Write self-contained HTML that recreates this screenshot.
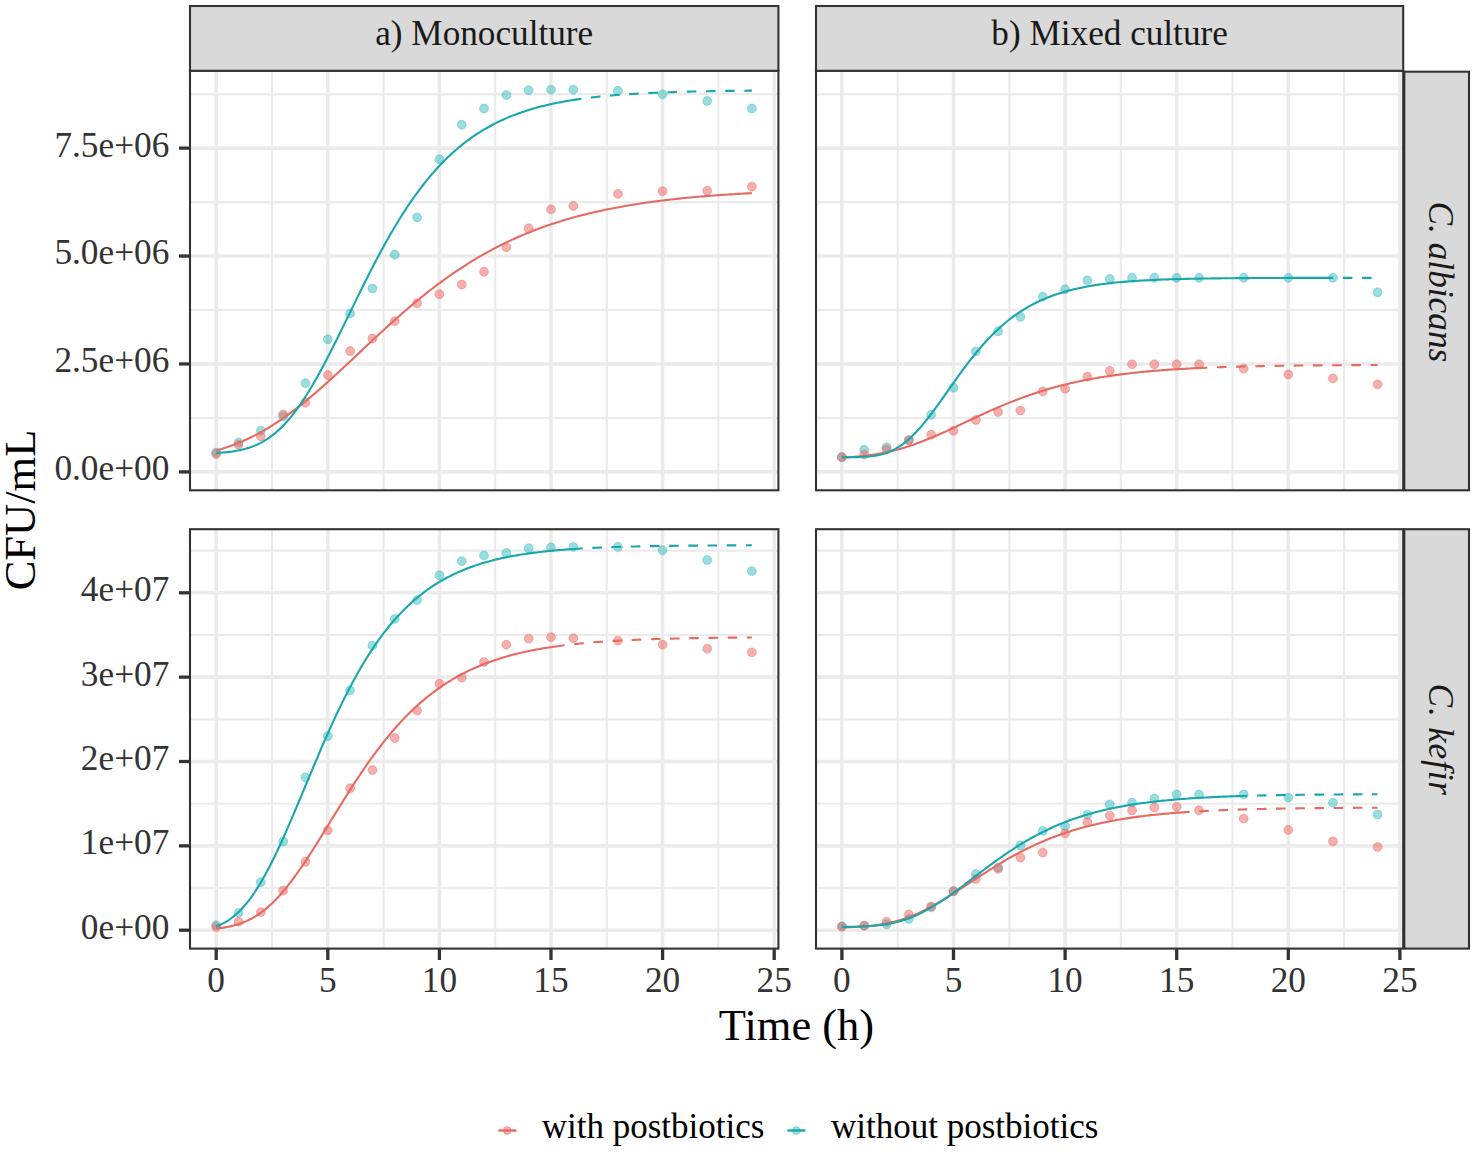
<!DOCTYPE html>
<html><head><meta charset="utf-8"><title>Growth curves</title>
<style>html,body{margin:0;padding:0;background:#fff;}text{font-variant-ligatures:none;font-kerning:normal;}body{width:1478px;height:1156px;position:relative;overflow:hidden;}</style>
</head><body>
<svg width="1478" height="1156" viewBox="0 0 1478 1156" style="position:absolute;left:0;top:0"><rect x="0" y="0" width="1478" height="1156" fill="#fff"/><clipPath id="clipA1"><rect x="190.0" y="70.8" width="588.40" height="419.50"/></clipPath><g clip-path="url(#clipA1)"><rect x="190.0" y="70.8" width="588.40" height="419.50" fill="#fff"/><line x1="190.0" x2="778.4" y1="417.94" y2="417.94" stroke="#ebebeb" stroke-width="2.1"/><line x1="190.0" x2="778.4" y1="310.01" y2="310.01" stroke="#ebebeb" stroke-width="2.1"/><line x1="190.0" x2="778.4" y1="202.09" y2="202.09" stroke="#ebebeb" stroke-width="2.1"/><line x1="190.0" x2="778.4" y1="94.16" y2="94.16" stroke="#ebebeb" stroke-width="2.1"/><line x1="272.00" x2="272.00" y1="70.8" y2="490.3" stroke="#ebebeb" stroke-width="2.1"/><line x1="383.60" x2="383.60" y1="70.8" y2="490.3" stroke="#ebebeb" stroke-width="2.1"/><line x1="495.20" x2="495.20" y1="70.8" y2="490.3" stroke="#ebebeb" stroke-width="2.1"/><line x1="606.80" x2="606.80" y1="70.8" y2="490.3" stroke="#ebebeb" stroke-width="2.1"/><line x1="718.40" x2="718.40" y1="70.8" y2="490.3" stroke="#ebebeb" stroke-width="2.1"/><line x1="190.0" x2="778.4" y1="471.90" y2="471.90" stroke="#ebebeb" stroke-width="3.6"/><line x1="190.0" x2="778.4" y1="363.97" y2="363.97" stroke="#ebebeb" stroke-width="3.6"/><line x1="190.0" x2="778.4" y1="256.05" y2="256.05" stroke="#ebebeb" stroke-width="3.6"/><line x1="190.0" x2="778.4" y1="148.12" y2="148.12" stroke="#ebebeb" stroke-width="3.6"/><line x1="216.20" x2="216.20" y1="70.8" y2="490.3" stroke="#ebebeb" stroke-width="3.6"/><line x1="327.80" x2="327.80" y1="70.8" y2="490.3" stroke="#ebebeb" stroke-width="3.6"/><line x1="439.40" x2="439.40" y1="70.8" y2="490.3" stroke="#ebebeb" stroke-width="3.6"/><line x1="551.00" x2="551.00" y1="70.8" y2="490.3" stroke="#ebebeb" stroke-width="3.6"/><line x1="662.60" x2="662.60" y1="70.8" y2="490.3" stroke="#ebebeb" stroke-width="3.6"/><line x1="774.20" x2="774.20" y1="70.8" y2="490.3" stroke="#ebebeb" stroke-width="3.6"/><g><circle cx="216.20" cy="452.50" r="4.45" fill="#1eb4b9" fill-opacity="0.45" stroke="#1eb4b9" stroke-opacity="0.36" stroke-width="1.0"/><circle cx="238.52" cy="442.40" r="4.45" fill="#1eb4b9" fill-opacity="0.45" stroke="#1eb4b9" stroke-opacity="0.36" stroke-width="1.0"/><circle cx="260.84" cy="430.60" r="4.45" fill="#1eb4b9" fill-opacity="0.45" stroke="#1eb4b9" stroke-opacity="0.36" stroke-width="1.0"/><circle cx="283.16" cy="416.40" r="4.45" fill="#1eb4b9" fill-opacity="0.45" stroke="#1eb4b9" stroke-opacity="0.36" stroke-width="1.0"/><circle cx="305.48" cy="383.10" r="4.45" fill="#1eb4b9" fill-opacity="0.45" stroke="#1eb4b9" stroke-opacity="0.36" stroke-width="1.0"/><circle cx="327.80" cy="339.30" r="4.45" fill="#1eb4b9" fill-opacity="0.45" stroke="#1eb4b9" stroke-opacity="0.36" stroke-width="1.0"/><circle cx="350.12" cy="313.50" r="4.45" fill="#1eb4b9" fill-opacity="0.45" stroke="#1eb4b9" stroke-opacity="0.36" stroke-width="1.0"/><circle cx="372.44" cy="288.50" r="4.45" fill="#1eb4b9" fill-opacity="0.45" stroke="#1eb4b9" stroke-opacity="0.36" stroke-width="1.0"/><circle cx="394.76" cy="254.70" r="4.45" fill="#1eb4b9" fill-opacity="0.45" stroke="#1eb4b9" stroke-opacity="0.36" stroke-width="1.0"/><circle cx="417.08" cy="217.50" r="4.45" fill="#1eb4b9" fill-opacity="0.45" stroke="#1eb4b9" stroke-opacity="0.36" stroke-width="1.0"/><circle cx="439.40" cy="159.30" r="4.45" fill="#1eb4b9" fill-opacity="0.45" stroke="#1eb4b9" stroke-opacity="0.36" stroke-width="1.0"/><circle cx="461.72" cy="124.80" r="4.45" fill="#1eb4b9" fill-opacity="0.45" stroke="#1eb4b9" stroke-opacity="0.36" stroke-width="1.0"/><circle cx="484.04" cy="108.50" r="4.45" fill="#1eb4b9" fill-opacity="0.45" stroke="#1eb4b9" stroke-opacity="0.36" stroke-width="1.0"/><circle cx="506.36" cy="95.00" r="4.45" fill="#1eb4b9" fill-opacity="0.45" stroke="#1eb4b9" stroke-opacity="0.36" stroke-width="1.0"/><circle cx="528.68" cy="90.30" r="4.45" fill="#1eb4b9" fill-opacity="0.45" stroke="#1eb4b9" stroke-opacity="0.36" stroke-width="1.0"/><circle cx="551.00" cy="89.70" r="4.45" fill="#1eb4b9" fill-opacity="0.45" stroke="#1eb4b9" stroke-opacity="0.36" stroke-width="1.0"/><circle cx="573.32" cy="89.70" r="4.45" fill="#1eb4b9" fill-opacity="0.45" stroke="#1eb4b9" stroke-opacity="0.36" stroke-width="1.0"/><circle cx="617.96" cy="90.70" r="4.45" fill="#1eb4b9" fill-opacity="0.45" stroke="#1eb4b9" stroke-opacity="0.36" stroke-width="1.0"/><circle cx="662.60" cy="94.30" r="4.45" fill="#1eb4b9" fill-opacity="0.45" stroke="#1eb4b9" stroke-opacity="0.36" stroke-width="1.0"/><circle cx="707.24" cy="101.00" r="4.45" fill="#1eb4b9" fill-opacity="0.45" stroke="#1eb4b9" stroke-opacity="0.36" stroke-width="1.0"/><circle cx="751.88" cy="108.50" r="4.45" fill="#1eb4b9" fill-opacity="0.45" stroke="#1eb4b9" stroke-opacity="0.36" stroke-width="1.0"/><circle cx="216.20" cy="454.10" r="4.45" fill="#eb615d" fill-opacity="0.5" stroke="#eb615d" stroke-opacity="0.40" stroke-width="1.0"/><circle cx="238.52" cy="444.80" r="4.45" fill="#eb615d" fill-opacity="0.5" stroke="#eb615d" stroke-opacity="0.40" stroke-width="1.0"/><circle cx="260.84" cy="436.30" r="4.45" fill="#eb615d" fill-opacity="0.5" stroke="#eb615d" stroke-opacity="0.40" stroke-width="1.0"/><circle cx="283.16" cy="414.40" r="4.45" fill="#eb615d" fill-opacity="0.5" stroke="#eb615d" stroke-opacity="0.40" stroke-width="1.0"/><circle cx="305.48" cy="402.80" r="4.45" fill="#eb615d" fill-opacity="0.5" stroke="#eb615d" stroke-opacity="0.40" stroke-width="1.0"/><circle cx="327.80" cy="375.00" r="4.45" fill="#eb615d" fill-opacity="0.5" stroke="#eb615d" stroke-opacity="0.40" stroke-width="1.0"/><circle cx="350.12" cy="351.00" r="4.45" fill="#eb615d" fill-opacity="0.5" stroke="#eb615d" stroke-opacity="0.40" stroke-width="1.0"/><circle cx="372.44" cy="338.50" r="4.45" fill="#eb615d" fill-opacity="0.5" stroke="#eb615d" stroke-opacity="0.40" stroke-width="1.0"/><circle cx="394.76" cy="321.20" r="4.45" fill="#eb615d" fill-opacity="0.5" stroke="#eb615d" stroke-opacity="0.40" stroke-width="1.0"/><circle cx="417.08" cy="303.30" r="4.45" fill="#eb615d" fill-opacity="0.5" stroke="#eb615d" stroke-opacity="0.40" stroke-width="1.0"/><circle cx="439.40" cy="294.20" r="4.45" fill="#eb615d" fill-opacity="0.5" stroke="#eb615d" stroke-opacity="0.40" stroke-width="1.0"/><circle cx="461.72" cy="284.50" r="4.45" fill="#eb615d" fill-opacity="0.5" stroke="#eb615d" stroke-opacity="0.40" stroke-width="1.0"/><circle cx="484.04" cy="271.80" r="4.45" fill="#eb615d" fill-opacity="0.5" stroke="#eb615d" stroke-opacity="0.40" stroke-width="1.0"/><circle cx="506.36" cy="247.20" r="4.45" fill="#eb615d" fill-opacity="0.5" stroke="#eb615d" stroke-opacity="0.40" stroke-width="1.0"/><circle cx="528.68" cy="228.30" r="4.45" fill="#eb615d" fill-opacity="0.5" stroke="#eb615d" stroke-opacity="0.40" stroke-width="1.0"/><circle cx="551.00" cy="209.40" r="4.45" fill="#eb615d" fill-opacity="0.5" stroke="#eb615d" stroke-opacity="0.40" stroke-width="1.0"/><circle cx="573.32" cy="206.00" r="4.45" fill="#eb615d" fill-opacity="0.5" stroke="#eb615d" stroke-opacity="0.40" stroke-width="1.0"/><circle cx="617.96" cy="193.80" r="4.45" fill="#eb615d" fill-opacity="0.5" stroke="#eb615d" stroke-opacity="0.40" stroke-width="1.0"/><circle cx="662.60" cy="191.20" r="4.45" fill="#eb615d" fill-opacity="0.5" stroke="#eb615d" stroke-opacity="0.40" stroke-width="1.0"/><circle cx="707.24" cy="190.70" r="4.45" fill="#eb615d" fill-opacity="0.5" stroke="#eb615d" stroke-opacity="0.40" stroke-width="1.0"/><circle cx="751.88" cy="186.70" r="4.45" fill="#eb615d" fill-opacity="0.5" stroke="#eb615d" stroke-opacity="0.40" stroke-width="1.0"/></g><path d="M216.20 450.42 L218.89 449.67 L221.58 448.89 L224.28 448.05 L226.97 447.18 L229.66 446.26 L232.35 445.30 L235.04 444.30 L237.73 443.24 L240.43 442.15 L243.12 441.00 L245.81 439.81 L248.50 438.56 L251.19 437.27 L253.89 435.93 L256.58 434.55 L259.27 433.11 L261.96 431.62 L264.65 430.09 L267.35 428.51 L270.04 426.88 L272.73 425.20 L275.42 423.47 L278.11 421.70 L280.80 419.88 L283.50 418.02 L286.19 416.12 L288.88 414.17 L291.57 412.18 L294.26 410.15 L296.96 408.07 L299.65 405.97 L302.34 403.82 L305.03 401.64 L307.72 399.43 L310.42 397.18 L313.11 394.90 L315.80 392.59 L318.49 390.26 L321.18 387.90 L323.87 385.52 L326.57 383.11 L329.26 380.68 L331.95 378.24 L334.64 375.78 L337.33 373.30 L340.03 370.81 L342.72 368.31 L345.41 365.80 L348.10 363.28 L350.79 360.75 L353.48 358.22 L356.18 355.69 L358.87 353.15 L361.56 350.62 L364.25 348.09 L366.94 345.56 L369.64 343.03 L372.33 340.52 L375.02 338.01 L377.71 335.51 L380.40 333.02 L383.10 330.54 L385.79 328.08 L388.48 325.63 L391.17 323.20 L393.86 320.78 L396.55 318.38 L399.25 316.00 L401.94 313.64 L404.63 311.30 L407.32 308.98 L410.01 306.69 L412.71 304.41 L415.40 302.17 L418.09 299.94 L420.78 297.74 L423.47 295.57 L426.17 293.42 L428.86 291.30 L431.55 289.21 L434.24 287.14 L436.93 285.10 L439.62 283.09 L442.32 281.11 L445.01 279.15 L447.70 277.23 L450.39 275.33 L453.08 273.47 L455.78 271.63 L458.47 269.82 L461.16 268.04 L463.85 266.29 L466.54 264.57 L469.23 262.88 L471.93 261.21 L474.62 259.58 L477.31 257.97 L480.00 256.40 L482.69 254.85 L485.39 253.33 L488.08 251.84 L490.77 250.38 L493.46 248.94 L496.15 247.53 L498.85 246.15 L501.54 244.80 L504.23 243.47 L506.92 242.17 L509.61 240.90 L512.30 239.65 L515.00 238.42 L517.69 237.23 L520.38 236.05 L523.07 234.90 L525.76 233.78 L528.46 232.68 L531.15 231.60 L533.84 230.55 L536.53 229.51 L539.22 228.51 L541.91 227.52 L544.61 226.55 L547.30 225.61 L549.99 224.69 L552.68 223.78 L555.37 222.90 L558.07 222.04 L560.76 221.20 L563.45 220.37 L566.14 219.57 L568.83 218.78 L571.53 218.01 L574.22 217.26 L576.91 216.53 L579.60 215.81 L582.29 215.12 L584.98 214.43 L587.68 213.77 L590.37 213.12 L593.06 212.48 L595.75 211.86 L598.44 211.25 L601.14 210.66 L603.83 210.09 L606.52 209.52 L609.21 208.97 L611.90 208.44 L614.60 207.92 L617.29 207.41 L619.98 206.91 L622.67 206.42 L625.36 205.95 L628.05 205.49 L630.75 205.04 L633.44 204.60 L636.13 204.17 L638.82 203.75 L641.51 203.34 L644.21 202.95 L646.90 202.56 L649.59 202.18 L652.28 201.81 L654.97 201.45 L657.66 201.10 L660.36 200.76 L663.05 200.43 L665.74 200.10 L668.43 199.79 L671.12 199.48 L673.82 199.18 L676.51 198.89 L679.20 198.60 L681.89 198.32 L684.58 198.05 L687.28 197.79 L689.97 197.53 L692.66 197.28 L695.35 197.04 L698.04 196.80 L700.73 196.57 L703.43 196.34 L706.12 196.12 L708.81 195.91 L711.50 195.70 L714.19 195.49 L716.89 195.29 L719.58 195.10 L722.27 194.91 L724.96 194.73 L727.65 194.55 L730.35 194.38 L733.04 194.21 L735.73 194.04 L738.42 193.88 L741.11 193.72 L743.80 193.57 L746.50 193.42 L749.19 193.28 L751.88 193.14" fill="none" stroke="#e76a61" stroke-width="2.1"/><path d="M581.13 98.83 L581.99 98.71 L582.85 98.59 L583.71 98.48 L584.56 98.37 L585.42 98.25 L586.28 98.14 L587.14 98.03 L588.00 97.93 L588.85 97.82 L589.71 97.72 L590.57 97.61 L591.43 97.51 L592.29 97.41 L593.14 97.31 L594.00 97.21 L594.86 97.12 L595.72 97.02 L596.58 96.93 L597.43 96.83 L598.29 96.74 L599.15 96.65 L600.01 96.56 L600.87 96.48 L601.72 96.39 L602.58 96.30 L603.44 96.22 L604.30 96.14 L605.16 96.05 L606.01 95.97 L606.87 95.89 L607.73 95.81 L608.59 95.74 L609.45 95.66 L610.31 95.58 L611.16 95.51 L612.02 95.43 L612.88 95.36 L613.74 95.29 L614.60 95.22 L615.45 95.15 L616.31 95.08 L617.17 95.01 L618.03 94.94 L618.89 94.88 L619.74 94.81 L620.60 94.75 L621.46 94.68 L622.32 94.62 L623.18 94.56 L624.03 94.50 L624.89 94.44 L625.75 94.38 L626.61 94.32 L627.47 94.26 L628.32 94.21 L629.18 94.15 L630.04 94.09 L630.90 94.04 L631.76 93.99 L632.61 93.93 L633.47 93.88 L634.33 93.83 L635.19 93.78 L636.05 93.73 L636.90 93.68 L637.76 93.63 L638.62 93.58 L639.48 93.53 L640.34 93.48 L641.19 93.44 L642.05 93.39 L642.91 93.35 L643.77 93.30 L644.63 93.26 L645.48 93.21 L646.34 93.17 L647.20 93.13 L648.06 93.09 L648.92 93.04 L649.77 93.00 L650.63 92.96 L651.49 92.92 L652.35 92.89 L653.21 92.85 L654.06 92.81 L654.92 92.77 L655.78 92.73 L656.64 92.70 L657.50 92.66 L658.35 92.63 L659.21 92.59 L660.07 92.56 L660.93 92.52 L661.79 92.49 L662.64 92.46 L663.50 92.42 L664.36 92.39 L665.22 92.36 L666.08 92.33 L666.94 92.30 L667.79 92.27 L668.65 92.24 L669.51 92.21 L670.37 92.18 L671.23 92.15 L672.08 92.12 L672.94 92.09 L673.80 92.06 L674.66 92.04 L675.52 92.01 L676.37 91.98 L677.23 91.96 L678.09 91.93 L678.95 91.91 L679.81 91.88 L680.66 91.86 L681.52 91.83 L682.38 91.81 L683.24 91.78 L684.10 91.76 L684.95 91.74 L685.81 91.71 L686.67 91.69 L687.53 91.67 L688.39 91.65 L689.24 91.62 L690.10 91.60 L690.96 91.58 L691.82 91.56 L692.68 91.54 L693.53 91.52 L694.39 91.50 L695.25 91.48 L696.11 91.46 L696.97 91.44 L697.82 91.42 L698.68 91.40 L699.54 91.39 L700.40 91.37 L701.26 91.35 L702.11 91.33 L702.97 91.31 L703.83 91.30 L704.69 91.28 L705.55 91.26 L706.40 91.25 L707.26 91.23 L708.12 91.21 L708.98 91.20 L709.84 91.18 L710.69 91.17 L711.55 91.15 L712.41 91.14 L713.27 91.12 L714.13 91.11 L714.98 91.09 L715.84 91.08 L716.70 91.07 L717.56 91.05 L718.42 91.04 L719.27 91.02 L720.13 91.01 L720.99 91.00 L721.85 90.98 L722.71 90.97 L723.57 90.96 L724.42 90.95 L725.28 90.93 L726.14 90.92 L727.00 90.91 L727.86 90.90 L728.71 90.89 L729.57 90.88 L730.43 90.86 L731.29 90.85 L732.15 90.84 L733.00 90.83 L733.86 90.82 L734.72 90.81 L735.58 90.80 L736.44 90.79 L737.29 90.78 L738.15 90.77 L739.01 90.76 L739.87 90.75 L740.73 90.74 L741.58 90.73 L742.44 90.72 L743.30 90.71 L744.16 90.70 L745.02 90.70 L745.87 90.69 L746.73 90.68 L747.59 90.67 L748.45 90.66 L749.31 90.65 L750.16 90.64 L751.02 90.64 L751.88 90.63" fill="none" stroke="#17a7ac" stroke-width="2.1" stroke-dasharray="9.6 9.6" stroke-dashoffset="9.3"/><path d="M216.20 452.93 L218.03 452.83 L219.87 452.72 L221.70 452.59 L223.54 452.44 L225.37 452.28 L227.20 452.10 L229.04 451.90 L230.87 451.67 L232.70 451.42 L234.54 451.14 L236.37 450.83 L238.21 450.49 L240.04 450.12 L241.87 449.71 L243.71 449.26 L245.54 448.78 L247.38 448.24 L249.21 447.66 L251.04 447.04 L252.88 446.36 L254.71 445.63 L256.54 444.84 L258.38 443.99 L260.21 443.08 L262.05 442.11 L263.88 441.07 L265.71 439.96 L267.55 438.78 L269.38 437.53 L271.21 436.20 L273.05 434.80 L274.88 433.32 L276.72 431.76 L278.55 430.12 L280.38 428.40 L282.22 426.60 L284.05 424.72 L285.89 422.75 L287.72 420.70 L289.55 418.56 L291.39 416.35 L293.22 414.05 L295.05 411.66 L296.89 409.20 L298.72 406.66 L300.56 404.04 L302.39 401.34 L304.22 398.56 L306.06 395.72 L307.89 392.80 L309.73 389.81 L311.56 386.75 L313.39 383.63 L315.23 380.45 L317.06 377.21 L318.89 373.91 L320.73 370.56 L322.56 367.16 L324.40 363.72 L326.23 360.23 L328.06 356.70 L329.90 353.13 L331.73 349.52 L333.57 345.89 L335.40 342.23 L337.23 338.55 L339.07 334.84 L340.90 331.12 L342.73 327.38 L344.57 323.64 L346.40 319.88 L348.24 316.12 L350.07 312.36 L351.90 308.60 L353.74 304.85 L355.57 301.10 L357.40 297.36 L359.24 293.64 L361.07 289.93 L362.91 286.24 L364.74 282.57 L366.57 278.92 L368.41 275.29 L370.24 271.69 L372.08 268.12 L373.91 264.58 L375.74 261.07 L377.58 257.59 L379.41 254.15 L381.24 250.75 L383.08 247.38 L384.91 244.06 L386.75 240.77 L388.58 237.53 L390.41 234.32 L392.25 231.16 L394.08 228.05 L395.92 224.98 L397.75 221.95 L399.58 218.97 L401.42 216.04 L403.25 213.15 L405.08 210.31 L406.92 207.52 L408.75 204.77 L410.59 202.07 L412.42 199.42 L414.25 196.82 L416.09 194.26 L417.92 191.76 L419.76 189.29 L421.59 186.88 L423.42 184.51 L425.26 182.19 L427.09 179.92 L428.92 177.69 L430.76 175.51 L432.59 173.37 L434.43 171.28 L436.26 169.23 L438.09 167.22 L439.93 165.26 L441.76 163.34 L443.59 161.46 L445.43 159.63 L447.26 157.83 L449.10 156.08 L450.93 154.37 L452.76 152.69 L454.60 151.06 L456.43 149.46 L458.27 147.90 L460.10 146.37 L461.93 144.88 L463.77 143.43 L465.60 142.01 L467.43 140.63 L469.27 139.28 L471.10 137.97 L472.94 136.68 L474.77 135.43 L476.60 134.21 L478.44 133.02 L480.27 131.85 L482.11 130.72 L483.94 129.62 L485.77 128.54 L487.61 127.49 L489.44 126.47 L491.27 125.48 L493.11 124.51 L494.94 123.56 L496.78 122.64 L498.61 121.75 L500.44 120.87 L502.28 120.02 L504.11 119.20 L505.95 118.39 L507.78 117.61 L509.61 116.84 L511.45 116.10 L513.28 115.38 L515.11 114.67 L516.95 113.99 L518.78 113.32 L520.62 112.67 L522.45 112.04 L524.28 111.42 L526.12 110.82 L527.95 110.24 L529.78 109.68 L531.62 109.12 L533.45 108.59 L535.29 108.07 L537.12 107.56 L538.95 107.07 L540.79 106.59 L542.62 106.12 L544.46 105.67 L546.29 105.23 L548.12 104.80 L549.96 104.38 L551.79 103.98 L553.62 103.58 L555.46 103.20 L557.29 102.83 L559.13 102.46 L560.96 102.11 L562.79 101.77 L564.63 101.44 L566.46 101.11 L568.30 100.80 L570.13 100.49 L571.96 100.19 L573.80 99.91 L575.63 99.62 L577.46 99.35 L579.30 99.09 L581.13 98.83" fill="none" stroke="#17a7ac" stroke-width="2.1"/></g><rect x="190.0" y="70.8" width="588.40" height="419.50" fill="none" stroke="#333" stroke-width="2.1"/><clipPath id="clipA2"><rect x="190.0" y="529.2" width="588.40" height="419.40"/></clipPath><g clip-path="url(#clipA2)"><rect x="190.0" y="529.2" width="588.40" height="419.40" fill="#fff"/><line x1="190.0" x2="778.4" y1="888.03" y2="888.03" stroke="#ebebeb" stroke-width="2.1"/><line x1="190.0" x2="778.4" y1="803.68" y2="803.68" stroke="#ebebeb" stroke-width="2.1"/><line x1="190.0" x2="778.4" y1="719.33" y2="719.33" stroke="#ebebeb" stroke-width="2.1"/><line x1="190.0" x2="778.4" y1="634.98" y2="634.98" stroke="#ebebeb" stroke-width="2.1"/><line x1="190.0" x2="778.4" y1="550.62" y2="550.62" stroke="#ebebeb" stroke-width="2.1"/><line x1="272.00" x2="272.00" y1="529.2" y2="948.6" stroke="#ebebeb" stroke-width="2.1"/><line x1="383.60" x2="383.60" y1="529.2" y2="948.6" stroke="#ebebeb" stroke-width="2.1"/><line x1="495.20" x2="495.20" y1="529.2" y2="948.6" stroke="#ebebeb" stroke-width="2.1"/><line x1="606.80" x2="606.80" y1="529.2" y2="948.6" stroke="#ebebeb" stroke-width="2.1"/><line x1="718.40" x2="718.40" y1="529.2" y2="948.6" stroke="#ebebeb" stroke-width="2.1"/><line x1="190.0" x2="778.4" y1="930.20" y2="930.20" stroke="#ebebeb" stroke-width="3.6"/><line x1="190.0" x2="778.4" y1="845.85" y2="845.85" stroke="#ebebeb" stroke-width="3.6"/><line x1="190.0" x2="778.4" y1="761.50" y2="761.50" stroke="#ebebeb" stroke-width="3.6"/><line x1="190.0" x2="778.4" y1="677.15" y2="677.15" stroke="#ebebeb" stroke-width="3.6"/><line x1="190.0" x2="778.4" y1="592.80" y2="592.80" stroke="#ebebeb" stroke-width="3.6"/><line x1="216.20" x2="216.20" y1="529.2" y2="948.6" stroke="#ebebeb" stroke-width="3.6"/><line x1="327.80" x2="327.80" y1="529.2" y2="948.6" stroke="#ebebeb" stroke-width="3.6"/><line x1="439.40" x2="439.40" y1="529.2" y2="948.6" stroke="#ebebeb" stroke-width="3.6"/><line x1="551.00" x2="551.00" y1="529.2" y2="948.6" stroke="#ebebeb" stroke-width="3.6"/><line x1="662.60" x2="662.60" y1="529.2" y2="948.6" stroke="#ebebeb" stroke-width="3.6"/><line x1="774.20" x2="774.20" y1="529.2" y2="948.6" stroke="#ebebeb" stroke-width="3.6"/><g><circle cx="216.20" cy="925.10" r="4.45" fill="#1eb4b9" fill-opacity="0.45" stroke="#1eb4b9" stroke-opacity="0.36" stroke-width="1.0"/><circle cx="238.52" cy="912.90" r="4.45" fill="#1eb4b9" fill-opacity="0.45" stroke="#1eb4b9" stroke-opacity="0.36" stroke-width="1.0"/><circle cx="260.84" cy="882.10" r="4.45" fill="#1eb4b9" fill-opacity="0.45" stroke="#1eb4b9" stroke-opacity="0.36" stroke-width="1.0"/><circle cx="283.16" cy="841.50" r="4.45" fill="#1eb4b9" fill-opacity="0.45" stroke="#1eb4b9" stroke-opacity="0.36" stroke-width="1.0"/><circle cx="305.48" cy="777.50" r="4.45" fill="#1eb4b9" fill-opacity="0.45" stroke="#1eb4b9" stroke-opacity="0.36" stroke-width="1.0"/><circle cx="327.80" cy="736.00" r="4.45" fill="#1eb4b9" fill-opacity="0.45" stroke="#1eb4b9" stroke-opacity="0.36" stroke-width="1.0"/><circle cx="350.12" cy="690.40" r="4.45" fill="#1eb4b9" fill-opacity="0.45" stroke="#1eb4b9" stroke-opacity="0.36" stroke-width="1.0"/><circle cx="372.44" cy="645.70" r="4.45" fill="#1eb4b9" fill-opacity="0.45" stroke="#1eb4b9" stroke-opacity="0.36" stroke-width="1.0"/><circle cx="394.76" cy="618.90" r="4.45" fill="#1eb4b9" fill-opacity="0.45" stroke="#1eb4b9" stroke-opacity="0.36" stroke-width="1.0"/><circle cx="417.08" cy="600.00" r="4.45" fill="#1eb4b9" fill-opacity="0.45" stroke="#1eb4b9" stroke-opacity="0.36" stroke-width="1.0"/><circle cx="439.40" cy="575.30" r="4.45" fill="#1eb4b9" fill-opacity="0.45" stroke="#1eb4b9" stroke-opacity="0.36" stroke-width="1.0"/><circle cx="461.72" cy="561.10" r="4.45" fill="#1eb4b9" fill-opacity="0.45" stroke="#1eb4b9" stroke-opacity="0.36" stroke-width="1.0"/><circle cx="484.04" cy="555.40" r="4.45" fill="#1eb4b9" fill-opacity="0.45" stroke="#1eb4b9" stroke-opacity="0.36" stroke-width="1.0"/><circle cx="506.36" cy="553.00" r="4.45" fill="#1eb4b9" fill-opacity="0.45" stroke="#1eb4b9" stroke-opacity="0.36" stroke-width="1.0"/><circle cx="528.68" cy="548.30" r="4.45" fill="#1eb4b9" fill-opacity="0.45" stroke="#1eb4b9" stroke-opacity="0.36" stroke-width="1.0"/><circle cx="551.00" cy="547.30" r="4.45" fill="#1eb4b9" fill-opacity="0.45" stroke="#1eb4b9" stroke-opacity="0.36" stroke-width="1.0"/><circle cx="573.32" cy="546.90" r="4.45" fill="#1eb4b9" fill-opacity="0.45" stroke="#1eb4b9" stroke-opacity="0.36" stroke-width="1.0"/><circle cx="617.96" cy="546.90" r="4.45" fill="#1eb4b9" fill-opacity="0.45" stroke="#1eb4b9" stroke-opacity="0.36" stroke-width="1.0"/><circle cx="662.60" cy="550.30" r="4.45" fill="#1eb4b9" fill-opacity="0.45" stroke="#1eb4b9" stroke-opacity="0.36" stroke-width="1.0"/><circle cx="707.24" cy="560.00" r="4.45" fill="#1eb4b9" fill-opacity="0.45" stroke="#1eb4b9" stroke-opacity="0.36" stroke-width="1.0"/><circle cx="751.88" cy="571.20" r="4.45" fill="#1eb4b9" fill-opacity="0.45" stroke="#1eb4b9" stroke-opacity="0.36" stroke-width="1.0"/><circle cx="216.20" cy="927.10" r="4.45" fill="#eb615d" fill-opacity="0.5" stroke="#eb615d" stroke-opacity="0.40" stroke-width="1.0"/><circle cx="238.52" cy="921.70" r="4.45" fill="#eb615d" fill-opacity="0.5" stroke="#eb615d" stroke-opacity="0.40" stroke-width="1.0"/><circle cx="260.84" cy="912.10" r="4.45" fill="#eb615d" fill-opacity="0.5" stroke="#eb615d" stroke-opacity="0.40" stroke-width="1.0"/><circle cx="283.16" cy="890.60" r="4.45" fill="#eb615d" fill-opacity="0.5" stroke="#eb615d" stroke-opacity="0.40" stroke-width="1.0"/><circle cx="305.48" cy="861.80" r="4.45" fill="#eb615d" fill-opacity="0.5" stroke="#eb615d" stroke-opacity="0.40" stroke-width="1.0"/><circle cx="327.80" cy="830.30" r="4.45" fill="#eb615d" fill-opacity="0.5" stroke="#eb615d" stroke-opacity="0.40" stroke-width="1.0"/><circle cx="350.12" cy="788.30" r="4.45" fill="#eb615d" fill-opacity="0.5" stroke="#eb615d" stroke-opacity="0.40" stroke-width="1.0"/><circle cx="372.44" cy="770.00" r="4.45" fill="#eb615d" fill-opacity="0.5" stroke="#eb615d" stroke-opacity="0.40" stroke-width="1.0"/><circle cx="394.76" cy="738.00" r="4.45" fill="#eb615d" fill-opacity="0.5" stroke="#eb615d" stroke-opacity="0.40" stroke-width="1.0"/><circle cx="417.08" cy="710.70" r="4.45" fill="#eb615d" fill-opacity="0.5" stroke="#eb615d" stroke-opacity="0.40" stroke-width="1.0"/><circle cx="439.40" cy="683.70" r="4.45" fill="#eb615d" fill-opacity="0.5" stroke="#eb615d" stroke-opacity="0.40" stroke-width="1.0"/><circle cx="461.72" cy="677.60" r="4.45" fill="#eb615d" fill-opacity="0.5" stroke="#eb615d" stroke-opacity="0.40" stroke-width="1.0"/><circle cx="484.04" cy="662.00" r="4.45" fill="#eb615d" fill-opacity="0.5" stroke="#eb615d" stroke-opacity="0.40" stroke-width="1.0"/><circle cx="506.36" cy="644.70" r="4.45" fill="#eb615d" fill-opacity="0.5" stroke="#eb615d" stroke-opacity="0.40" stroke-width="1.0"/><circle cx="528.68" cy="638.60" r="4.45" fill="#eb615d" fill-opacity="0.5" stroke="#eb615d" stroke-opacity="0.40" stroke-width="1.0"/><circle cx="551.00" cy="637.20" r="4.45" fill="#eb615d" fill-opacity="0.5" stroke="#eb615d" stroke-opacity="0.40" stroke-width="1.0"/><circle cx="573.32" cy="638.20" r="4.45" fill="#eb615d" fill-opacity="0.5" stroke="#eb615d" stroke-opacity="0.40" stroke-width="1.0"/><circle cx="617.96" cy="640.60" r="4.45" fill="#eb615d" fill-opacity="0.5" stroke="#eb615d" stroke-opacity="0.40" stroke-width="1.0"/><circle cx="662.60" cy="644.70" r="4.45" fill="#eb615d" fill-opacity="0.5" stroke="#eb615d" stroke-opacity="0.40" stroke-width="1.0"/><circle cx="707.24" cy="648.70" r="4.45" fill="#eb615d" fill-opacity="0.5" stroke="#eb615d" stroke-opacity="0.40" stroke-width="1.0"/><circle cx="751.88" cy="652.40" r="4.45" fill="#eb615d" fill-opacity="0.5" stroke="#eb615d" stroke-opacity="0.40" stroke-width="1.0"/></g><path d="M564.39 645.26 L565.33 645.14 L566.28 645.03 L567.22 644.92 L568.16 644.80 L569.10 644.69 L570.04 644.59 L570.99 644.48 L571.93 644.37 L572.87 644.27 L573.81 644.17 L574.76 644.07 L575.70 643.97 L576.64 643.87 L577.58 643.77 L578.52 643.68 L579.47 643.58 L580.41 643.49 L581.35 643.40 L582.29 643.31 L583.24 643.22 L584.18 643.13 L585.12 643.05 L586.06 642.96 L587.00 642.88 L587.95 642.79 L588.89 642.71 L589.83 642.63 L590.77 642.55 L591.71 642.47 L592.66 642.39 L593.60 642.32 L594.54 642.24 L595.48 642.17 L596.43 642.10 L597.37 642.02 L598.31 641.95 L599.25 641.88 L600.19 641.81 L601.14 641.74 L602.08 641.68 L603.02 641.61 L603.96 641.55 L604.90 641.48 L605.85 641.42 L606.79 641.35 L607.73 641.29 L608.67 641.23 L609.62 641.17 L610.56 641.11 L611.50 641.05 L612.44 641.00 L613.38 640.94 L614.33 640.88 L615.27 640.83 L616.21 640.77 L617.15 640.72 L618.09 640.67 L619.04 640.61 L619.98 640.56 L620.92 640.51 L621.86 640.46 L622.81 640.41 L623.75 640.36 L624.69 640.32 L625.63 640.27 L626.57 640.22 L627.52 640.18 L628.46 640.13 L629.40 640.09 L630.34 640.04 L631.28 640.00 L632.23 639.96 L633.17 639.91 L634.11 639.87 L635.05 639.83 L636.00 639.79 L636.94 639.75 L637.88 639.71 L638.82 639.67 L639.76 639.63 L640.71 639.60 L641.65 639.56 L642.59 639.52 L643.53 639.49 L644.47 639.45 L645.42 639.41 L646.36 639.38 L647.30 639.35 L648.24 639.31 L649.19 639.28 L650.13 639.25 L651.07 639.21 L652.01 639.18 L652.95 639.15 L653.90 639.12 L654.84 639.09 L655.78 639.06 L656.72 639.03 L657.66 639.00 L658.61 638.97 L659.55 638.94 L660.49 638.91 L661.43 638.89 L662.38 638.86 L663.32 638.83 L664.26 638.81 L665.20 638.78 L666.14 638.75 L667.09 638.73 L668.03 638.70 L668.97 638.68 L669.91 638.65 L670.86 638.63 L671.80 638.61 L672.74 638.58 L673.68 638.56 L674.62 638.54 L675.57 638.52 L676.51 638.49 L677.45 638.47 L678.39 638.45 L679.33 638.43 L680.28 638.41 L681.22 638.39 L682.16 638.37 L683.10 638.35 L684.05 638.33 L684.99 638.31 L685.93 638.29 L686.87 638.27 L687.81 638.25 L688.76 638.23 L689.70 638.22 L690.64 638.20 L691.58 638.18 L692.52 638.16 L693.47 638.15 L694.41 638.13 L695.35 638.11 L696.29 638.10 L697.24 638.08 L698.18 638.06 L699.12 638.05 L700.06 638.03 L701.00 638.02 L701.95 638.00 L702.89 637.99 L703.83 637.97 L704.77 637.96 L705.71 637.95 L706.66 637.93 L707.60 637.92 L708.54 637.90 L709.48 637.89 L710.43 637.88 L711.37 637.86 L712.31 637.85 L713.25 637.84 L714.19 637.83 L715.14 637.81 L716.08 637.80 L717.02 637.79 L717.96 637.78 L718.90 637.77 L719.85 637.75 L720.79 637.74 L721.73 637.73 L722.67 637.72 L723.62 637.71 L724.56 637.70 L725.50 637.69 L726.44 637.68 L727.38 637.67 L728.33 637.66 L729.27 637.65 L730.21 637.64 L731.15 637.63 L732.09 637.62 L733.04 637.61 L733.98 637.60 L734.92 637.59 L735.86 637.58 L736.81 637.57 L737.75 637.57 L738.69 637.56 L739.63 637.55 L740.57 637.54 L741.52 637.53 L742.46 637.52 L743.40 637.52 L744.34 637.51 L745.28 637.50 L746.23 637.49 L747.17 637.48 L748.11 637.48 L749.05 637.47 L750.00 637.46 L750.94 637.46 L751.88 637.45" fill="none" stroke="#e76a61" stroke-width="2.1" stroke-dasharray="9.6 9.6" stroke-dashoffset="9.3"/><path d="M216.20 928.41 L217.95 928.25 L219.70 928.06 L221.45 927.85 L223.20 927.61 L224.95 927.35 L226.70 927.06 L228.45 926.73 L230.20 926.38 L231.95 925.99 L233.70 925.56 L235.45 925.09 L237.20 924.58 L238.95 924.03 L240.70 923.43 L242.45 922.79 L244.20 922.10 L245.95 921.35 L247.69 920.55 L249.44 919.70 L251.19 918.79 L252.94 917.83 L254.69 916.80 L256.44 915.72 L258.19 914.57 L259.94 913.36 L261.69 912.10 L263.44 910.76 L265.19 909.37 L266.94 907.91 L268.69 906.39 L270.44 904.80 L272.19 903.16 L273.94 901.44 L275.69 899.67 L277.44 897.84 L279.19 895.94 L280.94 893.99 L282.69 891.97 L284.44 889.90 L286.19 887.78 L287.94 885.60 L289.69 883.37 L291.44 881.08 L293.19 878.75 L294.94 876.37 L296.69 873.95 L298.44 871.48 L300.19 868.98 L301.94 866.43 L303.69 863.85 L305.44 861.23 L307.18 858.58 L308.93 855.91 L310.68 853.20 L312.43 850.47 L314.18 847.72 L315.93 844.95 L317.68 842.16 L319.43 839.35 L321.18 836.53 L322.93 833.70 L324.68 830.86 L326.43 828.02 L328.18 825.17 L329.93 822.32 L331.68 819.47 L333.43 816.62 L335.18 813.77 L336.93 810.93 L338.68 808.09 L340.43 805.27 L342.18 802.45 L343.93 799.65 L345.68 796.86 L347.43 794.09 L349.18 791.34 L350.93 788.60 L352.68 785.88 L354.43 783.18 L356.18 780.51 L357.93 777.85 L359.68 775.22 L361.43 772.62 L363.18 770.04 L364.93 767.49 L366.67 764.97 L368.42 762.47 L370.17 760.01 L371.92 757.57 L373.67 755.16 L375.42 752.78 L377.17 750.44 L378.92 748.12 L380.67 745.84 L382.42 743.59 L384.17 741.37 L385.92 739.19 L387.67 737.04 L389.42 734.92 L391.17 732.83 L392.92 730.78 L394.67 728.76 L396.42 726.77 L398.17 724.82 L399.92 722.90 L401.67 721.01 L403.42 719.15 L405.17 717.33 L406.92 715.54 L408.67 713.78 L410.42 712.05 L412.17 710.36 L413.92 708.70 L415.67 707.07 L417.42 705.47 L419.17 703.90 L420.92 702.36 L422.67 700.85 L424.42 699.37 L426.17 697.92 L427.91 696.50 L429.66 695.11 L431.41 693.75 L433.16 692.41 L434.91 691.11 L436.66 689.83 L438.41 688.57 L440.16 687.35 L441.91 686.15 L443.66 684.97 L445.41 683.82 L447.16 682.70 L448.91 681.60 L450.66 680.52 L452.41 679.47 L454.16 678.44 L455.91 677.44 L457.66 676.45 L459.41 675.49 L461.16 674.55 L462.91 673.63 L464.66 672.73 L466.41 671.85 L468.16 671.00 L469.91 670.16 L471.66 669.34 L473.41 668.54 L475.16 667.76 L476.91 667.00 L478.66 666.25 L480.41 665.52 L482.16 664.81 L483.91 664.12 L485.66 663.44 L487.40 662.78 L489.15 662.14 L490.90 661.51 L492.65 660.89 L494.40 660.29 L496.15 659.70 L497.90 659.13 L499.65 658.57 L501.40 658.03 L503.15 657.50 L504.90 656.98 L506.65 656.47 L508.40 655.98 L510.15 655.50 L511.90 655.03 L513.65 654.57 L515.40 654.12 L517.15 653.69 L518.90 653.26 L520.65 652.85 L522.40 652.44 L524.15 652.05 L525.90 651.66 L527.65 651.29 L529.40 650.92 L531.15 650.57 L532.90 650.22 L534.65 649.88 L536.40 649.55 L538.15 649.23 L539.90 648.91 L541.65 648.61 L543.40 648.31 L545.15 648.02 L546.89 647.73 L548.64 647.46 L550.39 647.19 L552.14 646.92 L553.89 646.67 L555.64 646.42 L557.39 646.17 L559.14 645.94 L560.89 645.70 L562.64 645.48 L564.39 645.26" fill="none" stroke="#e76a61" stroke-width="2.1"/><path d="M582.47 548.46 L583.32 548.41 L584.17 548.36 L585.03 548.32 L585.88 548.27 L586.73 548.23 L587.58 548.18 L588.43 548.14 L589.28 548.09 L590.13 548.05 L590.98 548.01 L591.84 547.97 L592.69 547.92 L593.54 547.88 L594.39 547.84 L595.24 547.80 L596.09 547.77 L596.94 547.73 L597.79 547.69 L598.65 547.65 L599.50 547.62 L600.35 547.58 L601.20 547.54 L602.05 547.51 L602.90 547.47 L603.75 547.44 L604.61 547.41 L605.46 547.37 L606.31 547.34 L607.16 547.31 L608.01 547.28 L608.86 547.25 L609.71 547.22 L610.56 547.19 L611.42 547.16 L612.27 547.13 L613.12 547.10 L613.97 547.07 L614.82 547.04 L615.67 547.01 L616.52 546.98 L617.37 546.96 L618.23 546.93 L619.08 546.90 L619.93 546.88 L620.78 546.85 L621.63 546.83 L622.48 546.80 L623.33 546.78 L624.18 546.76 L625.04 546.73 L625.89 546.71 L626.74 546.68 L627.59 546.66 L628.44 546.64 L629.29 546.62 L630.14 546.60 L631.00 546.57 L631.85 546.55 L632.70 546.53 L633.55 546.51 L634.40 546.49 L635.25 546.47 L636.10 546.45 L636.95 546.43 L637.81 546.41 L638.66 546.39 L639.51 546.38 L640.36 546.36 L641.21 546.34 L642.06 546.32 L642.91 546.30 L643.76 546.29 L644.62 546.27 L645.47 546.25 L646.32 546.24 L647.17 546.22 L648.02 546.20 L648.87 546.19 L649.72 546.17 L650.58 546.16 L651.43 546.14 L652.28 546.13 L653.13 546.11 L653.98 546.10 L654.83 546.08 L655.68 546.07 L656.53 546.06 L657.39 546.04 L658.24 546.03 L659.09 546.02 L659.94 546.00 L660.79 545.99 L661.64 545.98 L662.49 545.96 L663.34 545.95 L664.20 545.94 L665.05 545.93 L665.90 545.92 L666.75 545.90 L667.60 545.89 L668.45 545.88 L669.30 545.87 L670.16 545.86 L671.01 545.85 L671.86 545.84 L672.71 545.83 L673.56 545.82 L674.41 545.81 L675.26 545.80 L676.11 545.79 L676.97 545.78 L677.82 545.77 L678.67 545.76 L679.52 545.75 L680.37 545.74 L681.22 545.73 L682.07 545.72 L682.92 545.71 L683.78 545.70 L684.63 545.69 L685.48 545.69 L686.33 545.68 L687.18 545.67 L688.03 545.66 L688.88 545.65 L689.74 545.65 L690.59 545.64 L691.44 545.63 L692.29 545.62 L693.14 545.62 L693.99 545.61 L694.84 545.60 L695.69 545.59 L696.55 545.59 L697.40 545.58 L698.25 545.57 L699.10 545.57 L699.95 545.56 L700.80 545.55 L701.65 545.55 L702.50 545.54 L703.36 545.53 L704.21 545.53 L705.06 545.52 L705.91 545.52 L706.76 545.51 L707.61 545.50 L708.46 545.50 L709.31 545.49 L710.17 545.49 L711.02 545.48 L711.87 545.48 L712.72 545.47 L713.57 545.47 L714.42 545.46 L715.27 545.46 L716.13 545.45 L716.98 545.45 L717.83 545.44 L718.68 545.44 L719.53 545.43 L720.38 545.43 L721.23 545.42 L722.08 545.42 L722.94 545.41 L723.79 545.41 L724.64 545.40 L725.49 545.40 L726.34 545.40 L727.19 545.39 L728.04 545.39 L728.89 545.38 L729.75 545.38 L730.60 545.38 L731.45 545.37 L732.30 545.37 L733.15 545.36 L734.00 545.36 L734.85 545.36 L735.71 545.35 L736.56 545.35 L737.41 545.35 L738.26 545.34 L739.11 545.34 L739.96 545.34 L740.81 545.33 L741.66 545.33 L742.52 545.33 L743.37 545.32 L744.22 545.32 L745.07 545.32 L745.92 545.31 L746.77 545.31 L747.62 545.31 L748.47 545.30 L749.33 545.30 L750.18 545.30 L751.03 545.30 L751.88 545.29" fill="none" stroke="#17a7ac" stroke-width="2.1" stroke-dasharray="9.6 9.6" stroke-dashoffset="9.3"/><path d="M216.20 926.47 L218.04 925.75 L219.88 924.97 L221.72 924.11 L223.56 923.16 L225.40 922.14 L227.24 921.03 L229.08 919.82 L230.92 918.52 L232.77 917.13 L234.61 915.63 L236.45 914.03 L238.29 912.32 L240.13 910.51 L241.97 908.58 L243.81 906.55 L245.65 904.40 L247.49 902.14 L249.33 899.77 L251.17 897.28 L253.01 894.68 L254.85 891.98 L256.69 889.16 L258.53 886.23 L260.37 883.20 L262.21 880.06 L264.05 876.83 L265.90 873.49 L267.74 870.06 L269.58 866.54 L271.42 862.93 L273.26 859.23 L275.10 855.46 L276.94 851.61 L278.78 847.69 L280.62 843.70 L282.46 839.65 L284.30 835.54 L286.14 831.39 L287.98 827.18 L289.82 822.93 L291.66 818.65 L293.50 814.33 L295.34 809.99 L297.18 805.62 L299.03 801.23 L300.87 796.83 L302.71 792.42 L304.55 788.01 L306.39 783.60 L308.23 779.19 L310.07 774.79 L311.91 770.40 L313.75 766.02 L315.59 761.67 L317.43 757.33 L319.27 753.03 L321.11 748.75 L322.95 744.51 L324.79 740.30 L326.63 736.12 L328.47 731.99 L330.31 727.90 L332.16 723.86 L334.00 719.86 L335.84 715.91 L337.68 712.01 L339.52 708.16 L341.36 704.37 L343.20 700.63 L345.04 696.94 L346.88 693.31 L348.72 689.74 L350.56 686.23 L352.40 682.77 L354.24 679.38 L356.08 676.04 L357.92 672.77 L359.76 669.55 L361.60 666.40 L363.44 663.30 L365.29 660.27 L367.13 657.30 L368.97 654.38 L370.81 651.53 L372.65 648.74 L374.49 646.00 L376.33 643.33 L378.17 640.71 L380.01 638.15 L381.85 635.65 L383.69 633.20 L385.53 630.81 L387.37 628.48 L389.21 626.19 L391.05 623.97 L392.89 621.79 L394.73 619.67 L396.57 617.60 L398.42 615.58 L400.26 613.61 L402.10 611.69 L403.94 609.82 L405.78 608.00 L407.62 606.22 L409.46 604.48 L411.30 602.79 L413.14 601.15 L414.98 599.55 L416.82 597.99 L418.66 596.47 L420.50 594.99 L422.34 593.55 L424.18 592.15 L426.02 590.78 L427.86 589.46 L429.70 588.17 L431.55 586.91 L433.39 585.69 L435.23 584.50 L437.07 583.35 L438.91 582.22 L440.75 581.13 L442.59 580.07 L444.43 579.04 L446.27 578.04 L448.11 577.06 L449.95 576.12 L451.79 575.19 L453.63 574.30 L455.47 573.43 L457.31 572.59 L459.15 571.77 L460.99 570.97 L462.83 570.20 L464.68 569.45 L466.52 568.72 L468.36 568.01 L470.20 567.33 L472.04 566.66 L473.88 566.01 L475.72 565.38 L477.56 564.77 L479.40 564.18 L481.24 563.60 L483.08 563.04 L484.92 562.50 L486.76 561.98 L488.60 561.47 L490.44 560.97 L492.28 560.49 L494.12 560.02 L495.96 559.57 L497.81 559.13 L499.65 558.71 L501.49 558.29 L503.33 557.89 L505.17 557.50 L507.01 557.13 L508.85 556.76 L510.69 556.40 L512.53 556.06 L514.37 555.73 L516.21 555.40 L518.05 555.09 L519.89 554.78 L521.73 554.49 L523.57 554.20 L525.41 553.92 L527.25 553.65 L529.09 553.39 L530.94 553.14 L532.78 552.89 L534.62 552.65 L536.46 552.42 L538.30 552.20 L540.14 551.98 L541.98 551.77 L543.82 551.57 L545.66 551.37 L547.50 551.18 L549.34 550.99 L551.18 550.81 L553.02 550.63 L554.86 550.46 L556.70 550.30 L558.54 550.14 L560.38 549.98 L562.23 549.83 L564.07 549.69 L565.91 549.55 L567.75 549.41 L569.59 549.28 L571.43 549.15 L573.27 549.03 L575.11 548.91 L576.95 548.79 L578.79 548.68 L580.63 548.57 L582.47 548.46" fill="none" stroke="#17a7ac" stroke-width="2.1"/></g><rect x="190.0" y="529.2" width="588.40" height="419.40" fill="none" stroke="#333" stroke-width="2.1"/><clipPath id="clipB1"><rect x="816.0" y="70.8" width="587.20" height="419.50"/></clipPath><g clip-path="url(#clipB1)"><rect x="816.0" y="70.8" width="587.20" height="419.50" fill="#fff"/><line x1="816.0" x2="1403.2" y1="417.94" y2="417.94" stroke="#ebebeb" stroke-width="2.1"/><line x1="816.0" x2="1403.2" y1="310.01" y2="310.01" stroke="#ebebeb" stroke-width="2.1"/><line x1="816.0" x2="1403.2" y1="202.09" y2="202.09" stroke="#ebebeb" stroke-width="2.1"/><line x1="816.0" x2="1403.2" y1="94.16" y2="94.16" stroke="#ebebeb" stroke-width="2.1"/><line x1="897.70" x2="897.70" y1="70.8" y2="490.3" stroke="#ebebeb" stroke-width="2.1"/><line x1="1009.30" x2="1009.30" y1="70.8" y2="490.3" stroke="#ebebeb" stroke-width="2.1"/><line x1="1120.90" x2="1120.90" y1="70.8" y2="490.3" stroke="#ebebeb" stroke-width="2.1"/><line x1="1232.50" x2="1232.50" y1="70.8" y2="490.3" stroke="#ebebeb" stroke-width="2.1"/><line x1="1344.10" x2="1344.10" y1="70.8" y2="490.3" stroke="#ebebeb" stroke-width="2.1"/><line x1="816.0" x2="1403.2" y1="471.90" y2="471.90" stroke="#ebebeb" stroke-width="3.6"/><line x1="816.0" x2="1403.2" y1="363.97" y2="363.97" stroke="#ebebeb" stroke-width="3.6"/><line x1="816.0" x2="1403.2" y1="256.05" y2="256.05" stroke="#ebebeb" stroke-width="3.6"/><line x1="816.0" x2="1403.2" y1="148.12" y2="148.12" stroke="#ebebeb" stroke-width="3.6"/><line x1="841.90" x2="841.90" y1="70.8" y2="490.3" stroke="#ebebeb" stroke-width="3.6"/><line x1="953.50" x2="953.50" y1="70.8" y2="490.3" stroke="#ebebeb" stroke-width="3.6"/><line x1="1065.10" x2="1065.10" y1="70.8" y2="490.3" stroke="#ebebeb" stroke-width="3.6"/><line x1="1176.70" x2="1176.70" y1="70.8" y2="490.3" stroke="#ebebeb" stroke-width="3.6"/><line x1="1288.30" x2="1288.30" y1="70.8" y2="490.3" stroke="#ebebeb" stroke-width="3.6"/><line x1="1399.90" x2="1399.90" y1="70.8" y2="490.3" stroke="#ebebeb" stroke-width="3.6"/><g><circle cx="841.90" cy="457.00" r="4.45" fill="#1eb4b9" fill-opacity="0.45" stroke="#1eb4b9" stroke-opacity="0.36" stroke-width="1.0"/><circle cx="864.22" cy="449.80" r="4.45" fill="#1eb4b9" fill-opacity="0.45" stroke="#1eb4b9" stroke-opacity="0.36" stroke-width="1.0"/><circle cx="886.54" cy="447.20" r="4.45" fill="#1eb4b9" fill-opacity="0.45" stroke="#1eb4b9" stroke-opacity="0.36" stroke-width="1.0"/><circle cx="908.86" cy="440.10" r="4.45" fill="#1eb4b9" fill-opacity="0.45" stroke="#1eb4b9" stroke-opacity="0.36" stroke-width="1.0"/><circle cx="931.18" cy="414.80" r="4.45" fill="#1eb4b9" fill-opacity="0.45" stroke="#1eb4b9" stroke-opacity="0.36" stroke-width="1.0"/><circle cx="953.50" cy="387.70" r="4.45" fill="#1eb4b9" fill-opacity="0.45" stroke="#1eb4b9" stroke-opacity="0.36" stroke-width="1.0"/><circle cx="975.82" cy="351.40" r="4.45" fill="#1eb4b9" fill-opacity="0.45" stroke="#1eb4b9" stroke-opacity="0.36" stroke-width="1.0"/><circle cx="998.14" cy="331.30" r="4.45" fill="#1eb4b9" fill-opacity="0.45" stroke="#1eb4b9" stroke-opacity="0.36" stroke-width="1.0"/><circle cx="1020.46" cy="316.80" r="4.45" fill="#1eb4b9" fill-opacity="0.45" stroke="#1eb4b9" stroke-opacity="0.36" stroke-width="1.0"/><circle cx="1042.78" cy="296.70" r="4.45" fill="#1eb4b9" fill-opacity="0.45" stroke="#1eb4b9" stroke-opacity="0.36" stroke-width="1.0"/><circle cx="1065.10" cy="289.30" r="4.45" fill="#1eb4b9" fill-opacity="0.45" stroke="#1eb4b9" stroke-opacity="0.36" stroke-width="1.0"/><circle cx="1087.42" cy="280.40" r="4.45" fill="#1eb4b9" fill-opacity="0.45" stroke="#1eb4b9" stroke-opacity="0.36" stroke-width="1.0"/><circle cx="1109.74" cy="278.90" r="4.45" fill="#1eb4b9" fill-opacity="0.45" stroke="#1eb4b9" stroke-opacity="0.36" stroke-width="1.0"/><circle cx="1132.06" cy="277.80" r="4.45" fill="#1eb4b9" fill-opacity="0.45" stroke="#1eb4b9" stroke-opacity="0.36" stroke-width="1.0"/><circle cx="1154.38" cy="277.80" r="4.45" fill="#1eb4b9" fill-opacity="0.45" stroke="#1eb4b9" stroke-opacity="0.36" stroke-width="1.0"/><circle cx="1176.70" cy="277.80" r="4.45" fill="#1eb4b9" fill-opacity="0.45" stroke="#1eb4b9" stroke-opacity="0.36" stroke-width="1.0"/><circle cx="1199.02" cy="277.80" r="4.45" fill="#1eb4b9" fill-opacity="0.45" stroke="#1eb4b9" stroke-opacity="0.36" stroke-width="1.0"/><circle cx="1243.66" cy="277.80" r="4.45" fill="#1eb4b9" fill-opacity="0.45" stroke="#1eb4b9" stroke-opacity="0.36" stroke-width="1.0"/><circle cx="1288.30" cy="277.80" r="4.45" fill="#1eb4b9" fill-opacity="0.45" stroke="#1eb4b9" stroke-opacity="0.36" stroke-width="1.0"/><circle cx="1332.94" cy="277.80" r="4.45" fill="#1eb4b9" fill-opacity="0.45" stroke="#1eb4b9" stroke-opacity="0.36" stroke-width="1.0"/><circle cx="1377.58" cy="292.30" r="4.45" fill="#1eb4b9" fill-opacity="0.45" stroke="#1eb4b9" stroke-opacity="0.36" stroke-width="1.0"/><circle cx="841.90" cy="457.40" r="4.45" fill="#eb615d" fill-opacity="0.5" stroke="#eb615d" stroke-opacity="0.40" stroke-width="1.0"/><circle cx="864.22" cy="454.60" r="4.45" fill="#eb615d" fill-opacity="0.5" stroke="#eb615d" stroke-opacity="0.40" stroke-width="1.0"/><circle cx="886.54" cy="449.40" r="4.45" fill="#eb615d" fill-opacity="0.5" stroke="#eb615d" stroke-opacity="0.40" stroke-width="1.0"/><circle cx="908.86" cy="440.10" r="4.45" fill="#eb615d" fill-opacity="0.5" stroke="#eb615d" stroke-opacity="0.40" stroke-width="1.0"/><circle cx="931.18" cy="434.70" r="4.45" fill="#eb615d" fill-opacity="0.5" stroke="#eb615d" stroke-opacity="0.40" stroke-width="1.0"/><circle cx="953.50" cy="430.80" r="4.45" fill="#eb615d" fill-opacity="0.5" stroke="#eb615d" stroke-opacity="0.40" stroke-width="1.0"/><circle cx="975.82" cy="420.00" r="4.45" fill="#eb615d" fill-opacity="0.5" stroke="#eb615d" stroke-opacity="0.40" stroke-width="1.0"/><circle cx="998.14" cy="412.00" r="4.45" fill="#eb615d" fill-opacity="0.5" stroke="#eb615d" stroke-opacity="0.40" stroke-width="1.0"/><circle cx="1020.46" cy="410.50" r="4.45" fill="#eb615d" fill-opacity="0.5" stroke="#eb615d" stroke-opacity="0.40" stroke-width="1.0"/><circle cx="1042.78" cy="391.40" r="4.45" fill="#eb615d" fill-opacity="0.5" stroke="#eb615d" stroke-opacity="0.40" stroke-width="1.0"/><circle cx="1065.10" cy="388.80" r="4.45" fill="#eb615d" fill-opacity="0.5" stroke="#eb615d" stroke-opacity="0.40" stroke-width="1.0"/><circle cx="1087.42" cy="376.70" r="4.45" fill="#eb615d" fill-opacity="0.5" stroke="#eb615d" stroke-opacity="0.40" stroke-width="1.0"/><circle cx="1109.74" cy="370.90" r="4.45" fill="#eb615d" fill-opacity="0.5" stroke="#eb615d" stroke-opacity="0.40" stroke-width="1.0"/><circle cx="1132.06" cy="364.30" r="4.45" fill="#eb615d" fill-opacity="0.5" stroke="#eb615d" stroke-opacity="0.40" stroke-width="1.0"/><circle cx="1154.38" cy="364.30" r="4.45" fill="#eb615d" fill-opacity="0.5" stroke="#eb615d" stroke-opacity="0.40" stroke-width="1.0"/><circle cx="1176.70" cy="364.30" r="4.45" fill="#eb615d" fill-opacity="0.5" stroke="#eb615d" stroke-opacity="0.40" stroke-width="1.0"/><circle cx="1199.02" cy="364.30" r="4.45" fill="#eb615d" fill-opacity="0.5" stroke="#eb615d" stroke-opacity="0.40" stroke-width="1.0"/><circle cx="1243.66" cy="368.60" r="4.45" fill="#eb615d" fill-opacity="0.5" stroke="#eb615d" stroke-opacity="0.40" stroke-width="1.0"/><circle cx="1288.30" cy="374.50" r="4.45" fill="#eb615d" fill-opacity="0.5" stroke="#eb615d" stroke-opacity="0.40" stroke-width="1.0"/><circle cx="1332.94" cy="378.40" r="4.45" fill="#eb615d" fill-opacity="0.5" stroke="#eb615d" stroke-opacity="0.40" stroke-width="1.0"/><circle cx="1377.58" cy="384.40" r="4.45" fill="#eb615d" fill-opacity="0.5" stroke="#eb615d" stroke-opacity="0.40" stroke-width="1.0"/></g><path d="M1207.06 367.68 L1207.91 367.65 L1208.77 367.61 L1209.63 367.58 L1210.48 367.54 L1211.34 367.51 L1212.20 367.48 L1213.05 367.44 L1213.91 367.41 L1214.77 367.38 L1215.62 367.35 L1216.48 367.32 L1217.34 367.29 L1218.20 367.26 L1219.05 367.23 L1219.91 367.20 L1220.77 367.17 L1221.62 367.14 L1222.48 367.11 L1223.34 367.08 L1224.19 367.05 L1225.05 367.03 L1225.91 367.00 L1226.76 366.97 L1227.62 366.94 L1228.48 366.92 L1229.33 366.89 L1230.19 366.87 L1231.05 366.84 L1231.91 366.82 L1232.76 366.79 L1233.62 366.77 L1234.48 366.74 L1235.33 366.72 L1236.19 366.69 L1237.05 366.67 L1237.90 366.65 L1238.76 366.62 L1239.62 366.60 L1240.47 366.58 L1241.33 366.56 L1242.19 366.54 L1243.05 366.51 L1243.90 366.49 L1244.76 366.47 L1245.62 366.45 L1246.47 366.43 L1247.33 366.41 L1248.19 366.39 L1249.04 366.37 L1249.90 366.35 L1250.76 366.33 L1251.61 366.31 L1252.47 366.29 L1253.33 366.27 L1254.19 366.26 L1255.04 366.24 L1255.90 366.22 L1256.76 366.20 L1257.61 366.18 L1258.47 366.17 L1259.33 366.15 L1260.18 366.13 L1261.04 366.12 L1261.90 366.10 L1262.75 366.08 L1263.61 366.07 L1264.47 366.05 L1265.32 366.03 L1266.18 366.02 L1267.04 366.00 L1267.90 365.99 L1268.75 365.97 L1269.61 365.96 L1270.47 365.94 L1271.32 365.93 L1272.18 365.91 L1273.04 365.90 L1273.89 365.89 L1274.75 365.87 L1275.61 365.86 L1276.46 365.85 L1277.32 365.83 L1278.18 365.82 L1279.04 365.81 L1279.89 365.79 L1280.75 365.78 L1281.61 365.77 L1282.46 365.75 L1283.32 365.74 L1284.18 365.73 L1285.03 365.72 L1285.89 365.71 L1286.75 365.69 L1287.60 365.68 L1288.46 365.67 L1289.32 365.66 L1290.18 365.65 L1291.03 365.64 L1291.89 365.63 L1292.75 365.62 L1293.60 365.61 L1294.46 365.60 L1295.32 365.59 L1296.17 365.57 L1297.03 365.56 L1297.89 365.55 L1298.74 365.54 L1299.60 365.54 L1300.46 365.53 L1301.32 365.52 L1302.17 365.51 L1303.03 365.50 L1303.89 365.49 L1304.74 365.48 L1305.60 365.47 L1306.46 365.46 L1307.31 365.45 L1308.17 365.44 L1309.03 365.43 L1309.88 365.43 L1310.74 365.42 L1311.60 365.41 L1312.45 365.40 L1313.31 365.39 L1314.17 365.39 L1315.03 365.38 L1315.88 365.37 L1316.74 365.36 L1317.60 365.35 L1318.45 365.35 L1319.31 365.34 L1320.17 365.33 L1321.02 365.33 L1321.88 365.32 L1322.74 365.31 L1323.59 365.30 L1324.45 365.30 L1325.31 365.29 L1326.17 365.28 L1327.02 365.28 L1327.88 365.27 L1328.74 365.26 L1329.59 365.26 L1330.45 365.25 L1331.31 365.24 L1332.16 365.24 L1333.02 365.23 L1333.88 365.23 L1334.73 365.22 L1335.59 365.21 L1336.45 365.21 L1337.31 365.20 L1338.16 365.20 L1339.02 365.19 L1339.88 365.19 L1340.73 365.18 L1341.59 365.18 L1342.45 365.17 L1343.30 365.16 L1344.16 365.16 L1345.02 365.15 L1345.87 365.15 L1346.73 365.14 L1347.59 365.14 L1348.45 365.13 L1349.30 365.13 L1350.16 365.12 L1351.02 365.12 L1351.87 365.12 L1352.73 365.11 L1353.59 365.11 L1354.44 365.10 L1355.30 365.10 L1356.16 365.09 L1357.01 365.09 L1357.87 365.08 L1358.73 365.08 L1359.58 365.08 L1360.44 365.07 L1361.30 365.07 L1362.16 365.06 L1363.01 365.06 L1363.87 365.06 L1364.73 365.05 L1365.58 365.05 L1366.44 365.04 L1367.30 365.04 L1368.15 365.04 L1369.01 365.03 L1369.87 365.03 L1370.72 365.03 L1371.58 365.02 L1372.44 365.02 L1373.30 365.01 L1374.15 365.01 L1375.01 365.01 L1375.87 365.00 L1376.72 365.00 L1377.58 365.00" fill="none" stroke="#e76a61" stroke-width="2.1" stroke-dasharray="9.6 9.6" stroke-dashoffset="9.3"/><path d="M841.90 457.58 L843.73 457.50 L845.57 457.40 L847.40 457.30 L849.24 457.18 L851.07 457.06 L852.91 456.93 L854.74 456.79 L856.58 456.63 L858.41 456.47 L860.25 456.30 L862.08 456.11 L863.92 455.91 L865.75 455.70 L867.59 455.47 L869.42 455.23 L871.26 454.98 L873.09 454.71 L874.93 454.42 L876.76 454.13 L878.60 453.81 L880.43 453.48 L882.27 453.13 L884.10 452.77 L885.94 452.39 L887.77 451.99 L889.61 451.58 L891.44 451.15 L893.28 450.70 L895.11 450.23 L896.95 449.75 L898.78 449.25 L900.62 448.73 L902.45 448.20 L904.29 447.65 L906.12 447.08 L907.96 446.50 L909.79 445.90 L911.63 445.28 L913.46 444.65 L915.30 444.00 L917.13 443.34 L918.97 442.66 L920.80 441.97 L922.64 441.27 L924.47 440.55 L926.31 439.82 L928.14 439.07 L929.98 438.32 L931.81 437.55 L933.65 436.78 L935.48 435.99 L937.32 435.19 L939.15 434.39 L940.99 433.58 L942.82 432.75 L944.66 431.93 L946.49 431.09 L948.33 430.25 L950.16 429.41 L952.00 428.56 L953.83 427.70 L955.67 426.85 L957.50 425.99 L959.34 425.13 L961.17 424.26 L963.01 423.40 L964.84 422.53 L966.68 421.67 L968.51 420.80 L970.35 419.94 L972.18 419.08 L974.02 418.22 L975.85 417.36 L977.69 416.51 L979.52 415.66 L981.36 414.82 L983.19 413.97 L985.03 413.14 L986.86 412.31 L988.70 411.48 L990.53 410.66 L992.37 409.85 L994.20 409.04 L996.04 408.24 L997.87 407.45 L999.71 406.66 L1001.54 405.88 L1003.38 405.11 L1005.21 404.35 L1007.05 403.60 L1008.88 402.85 L1010.72 402.11 L1012.55 401.39 L1014.39 400.67 L1016.22 399.96 L1018.06 399.26 L1019.89 398.57 L1021.73 397.89 L1023.56 397.21 L1025.40 396.55 L1027.23 395.90 L1029.06 395.25 L1030.90 394.62 L1032.73 394.00 L1034.57 393.38 L1036.40 392.78 L1038.24 392.18 L1040.07 391.60 L1041.91 391.02 L1043.74 390.45 L1045.58 389.90 L1047.41 389.35 L1049.25 388.81 L1051.08 388.29 L1052.92 387.77 L1054.75 387.26 L1056.59 386.76 L1058.42 386.27 L1060.26 385.79 L1062.09 385.32 L1063.93 384.85 L1065.76 384.40 L1067.60 383.95 L1069.43 383.52 L1071.27 383.09 L1073.10 382.67 L1074.94 382.26 L1076.77 381.85 L1078.61 381.46 L1080.44 381.07 L1082.28 380.69 L1084.11 380.32 L1085.95 379.96 L1087.78 379.60 L1089.62 379.25 L1091.45 378.91 L1093.29 378.58 L1095.12 378.25 L1096.96 377.93 L1098.79 377.62 L1100.63 377.31 L1102.46 377.01 L1104.30 376.72 L1106.13 376.43 L1107.97 376.15 L1109.80 375.88 L1111.64 375.61 L1113.47 375.35 L1115.31 375.09 L1117.14 374.84 L1118.98 374.60 L1120.81 374.36 L1122.65 374.13 L1124.48 373.90 L1126.32 373.67 L1128.15 373.46 L1129.99 373.24 L1131.82 373.04 L1133.66 372.83 L1135.49 372.63 L1137.33 372.44 L1139.16 372.25 L1141.00 372.07 L1142.83 371.88 L1144.67 371.71 L1146.50 371.54 L1148.34 371.37 L1150.17 371.20 L1152.01 371.04 L1153.84 370.89 L1155.68 370.74 L1157.51 370.59 L1159.35 370.44 L1161.18 370.30 L1163.02 370.16 L1164.85 370.03 L1166.69 369.89 L1168.52 369.76 L1170.36 369.64 L1172.19 369.52 L1174.03 369.40 L1175.86 369.28 L1177.70 369.17 L1179.53 369.06 L1181.37 368.95 L1183.20 368.84 L1185.04 368.74 L1186.87 368.64 L1188.71 368.54 L1190.54 368.44 L1192.38 368.35 L1194.21 368.26 L1196.05 368.17 L1197.88 368.08 L1199.72 368.00 L1201.55 367.92 L1203.39 367.84 L1205.22 367.76 L1207.06 367.68" fill="none" stroke="#e76a61" stroke-width="2.1"/><path d="M1332.94 277.85 L1333.16 277.85 L1333.39 277.85 L1333.61 277.85 L1333.84 277.85 L1334.06 277.85 L1334.29 277.85 L1334.51 277.85 L1334.73 277.85 L1334.96 277.85 L1335.18 277.85 L1335.41 277.85 L1335.63 277.85 L1335.86 277.85 L1336.08 277.85 L1336.30 277.85 L1336.53 277.85 L1336.75 277.85 L1336.98 277.85 L1337.20 277.85 L1337.43 277.85 L1337.65 277.85 L1337.88 277.85 L1338.10 277.85 L1338.32 277.85 L1338.55 277.85 L1338.77 277.85 L1339.00 277.85 L1339.22 277.85 L1339.45 277.85 L1339.67 277.85 L1339.89 277.85 L1340.12 277.85 L1340.34 277.85 L1340.57 277.84 L1340.79 277.84 L1341.02 277.84 L1341.24 277.84 L1341.46 277.84 L1341.69 277.84 L1341.91 277.84 L1342.14 277.84 L1342.36 277.84 L1342.59 277.84 L1342.81 277.84 L1343.03 277.84 L1343.26 277.84 L1343.48 277.84 L1343.71 277.84 L1343.93 277.84 L1344.16 277.84 L1344.38 277.84 L1344.60 277.84 L1344.83 277.84 L1345.05 277.84 L1345.28 277.84 L1345.50 277.84 L1345.73 277.84 L1345.95 277.84 L1346.17 277.84 L1346.40 277.84 L1346.62 277.84 L1346.85 277.84 L1347.07 277.84 L1347.30 277.84 L1347.52 277.84 L1347.75 277.84 L1347.97 277.84 L1348.19 277.84 L1348.42 277.84 L1348.64 277.84 L1348.87 277.84 L1349.09 277.84 L1349.32 277.84 L1349.54 277.84 L1349.76 277.84 L1349.99 277.84 L1350.21 277.84 L1350.44 277.84 L1350.66 277.84 L1350.89 277.84 L1351.11 277.84 L1351.33 277.84 L1351.56 277.84 L1351.78 277.84 L1352.01 277.84 L1352.23 277.84 L1352.46 277.84 L1352.68 277.84 L1352.90 277.84 L1353.13 277.84 L1353.35 277.84 L1353.58 277.84 L1353.80 277.84 L1354.03 277.84 L1354.25 277.84 L1354.47 277.83 L1354.70 277.83 L1354.92 277.83 L1355.15 277.83 L1355.37 277.83 L1355.60 277.83 L1355.82 277.83 L1356.05 277.83 L1356.27 277.83 L1356.49 277.83 L1356.72 277.83 L1356.94 277.83 L1357.17 277.83 L1357.39 277.83 L1357.62 277.83 L1357.84 277.83 L1358.06 277.83 L1358.29 277.83 L1358.51 277.83 L1358.74 277.83 L1358.96 277.83 L1359.19 277.83 L1359.41 277.83 L1359.63 277.83 L1359.86 277.83 L1360.08 277.83 L1360.31 277.83 L1360.53 277.83 L1360.76 277.83 L1360.98 277.83 L1361.20 277.83 L1361.43 277.83 L1361.65 277.83 L1361.88 277.83 L1362.10 277.83 L1362.33 277.83 L1362.55 277.83 L1362.77 277.83 L1363.00 277.83 L1363.22 277.83 L1363.45 277.83 L1363.67 277.83 L1363.90 277.83 L1364.12 277.83 L1364.35 277.83 L1364.57 277.83 L1364.79 277.83 L1365.02 277.83 L1365.24 277.83 L1365.47 277.83 L1365.69 277.83 L1365.92 277.83 L1366.14 277.83 L1366.36 277.83 L1366.59 277.83 L1366.81 277.83 L1367.04 277.83 L1367.26 277.83 L1367.49 277.83 L1367.71 277.83 L1367.93 277.83 L1368.16 277.83 L1368.38 277.83 L1368.61 277.83 L1368.83 277.83 L1369.06 277.83 L1369.28 277.83 L1369.50 277.83 L1369.73 277.83 L1369.95 277.83 L1370.18 277.83 L1370.40 277.83 L1370.63 277.83 L1370.85 277.83 L1371.07 277.83 L1371.30 277.83 L1371.52 277.83 L1371.75 277.83 L1371.97 277.83 L1372.20 277.83 L1372.42 277.83 L1372.64 277.83 L1372.87 277.83 L1373.09 277.83 L1373.32 277.83 L1373.54 277.83 L1373.77 277.83 L1373.99 277.83 L1374.22 277.83 L1374.44 277.83 L1374.66 277.82 L1374.89 277.82 L1375.11 277.82 L1375.34 277.82 L1375.56 277.82 L1375.79 277.82 L1376.01 277.82 L1376.23 277.82 L1376.46 277.82 L1376.68 277.82 L1376.91 277.82 L1377.13 277.82 L1377.36 277.82 L1377.58 277.82" fill="none" stroke="#17a7ac" stroke-width="2.1" stroke-dasharray="9.6 9.6" stroke-dashoffset="9.3"/><path d="M841.90 457.24 L844.37 457.23 L846.84 457.22 L849.30 457.20 L851.77 457.18 L854.24 457.14 L856.71 457.09 L859.17 457.02 L861.64 456.93 L864.11 456.81 L866.58 456.65 L869.04 456.44 L871.51 456.18 L873.98 455.86 L876.45 455.47 L878.91 454.99 L881.38 454.41 L883.85 453.73 L886.32 452.94 L888.78 452.03 L891.25 450.98 L893.72 449.80 L896.19 448.46 L898.65 446.98 L901.12 445.35 L903.59 443.56 L906.06 441.61 L908.52 439.51 L910.99 437.26 L913.46 434.86 L915.93 432.32 L918.39 429.64 L920.86 426.84 L923.33 423.92 L925.80 420.89 L928.26 417.76 L930.73 414.55 L933.20 411.26 L935.67 407.91 L938.13 404.51 L940.60 401.06 L943.07 397.59 L945.54 394.10 L948.00 390.60 L950.47 387.10 L952.94 383.61 L955.41 380.14 L957.87 376.70 L960.34 373.30 L962.81 369.94 L965.28 366.63 L967.74 363.37 L970.21 360.18 L972.68 357.05 L975.15 353.99 L977.61 350.99 L980.08 348.08 L982.55 345.24 L985.02 342.48 L987.48 339.80 L989.95 337.20 L992.42 334.68 L994.89 332.24 L997.35 329.89 L999.82 327.61 L1002.29 325.41 L1004.76 323.30 L1007.23 321.26 L1009.69 319.30 L1012.16 317.41 L1014.63 315.60 L1017.10 313.86 L1019.56 312.18 L1022.03 310.58 L1024.50 309.05 L1026.97 307.57 L1029.43 306.16 L1031.90 304.82 L1034.37 303.53 L1036.84 302.29 L1039.30 301.11 L1041.77 299.99 L1044.24 298.91 L1046.71 297.88 L1049.17 296.90 L1051.64 295.97 L1054.11 295.08 L1056.58 294.23 L1059.04 293.42 L1061.51 292.65 L1063.98 291.91 L1066.45 291.21 L1068.91 290.54 L1071.38 289.91 L1073.85 289.30 L1076.32 288.73 L1078.78 288.18 L1081.25 287.66 L1083.72 287.16 L1086.19 286.69 L1088.65 286.24 L1091.12 285.82 L1093.59 285.41 L1096.06 285.03 L1098.52 284.66 L1100.99 284.31 L1103.46 283.98 L1105.93 283.67 L1108.39 283.37 L1110.86 283.09 L1113.33 282.82 L1115.80 282.56 L1118.26 282.32 L1120.73 282.09 L1123.20 281.87 L1125.67 281.66 L1128.13 281.47 L1130.60 281.28 L1133.07 281.10 L1135.54 280.93 L1138.00 280.77 L1140.47 280.62 L1142.94 280.48 L1145.41 280.34 L1147.87 280.21 L1150.34 280.09 L1152.81 279.97 L1155.28 279.86 L1157.74 279.75 L1160.21 279.65 L1162.68 279.56 L1165.15 279.47 L1167.61 279.38 L1170.08 279.30 L1172.55 279.22 L1175.02 279.15 L1177.49 279.08 L1179.95 279.02 L1182.42 278.95 L1184.89 278.89 L1187.36 278.84 L1189.82 278.79 L1192.29 278.74 L1194.76 278.69 L1197.23 278.64 L1199.69 278.60 L1202.16 278.56 L1204.63 278.52 L1207.10 278.48 L1209.56 278.45 L1212.03 278.41 L1214.50 278.38 L1216.97 278.35 L1219.43 278.33 L1221.90 278.30 L1224.37 278.27 L1226.84 278.25 L1229.30 278.23 L1231.77 278.20 L1234.24 278.18 L1236.71 278.16 L1239.17 278.15 L1241.64 278.13 L1244.11 278.11 L1246.58 278.10 L1249.04 278.08 L1251.51 278.07 L1253.98 278.05 L1256.45 278.04 L1258.91 278.03 L1261.38 278.02 L1263.85 278.01 L1266.32 278.00 L1268.78 277.99 L1271.25 277.98 L1273.72 277.97 L1276.19 277.96 L1278.65 277.95 L1281.12 277.94 L1283.59 277.94 L1286.06 277.93 L1288.52 277.92 L1290.99 277.92 L1293.46 277.91 L1295.93 277.91 L1298.39 277.90 L1300.86 277.90 L1303.33 277.89 L1305.80 277.89 L1308.26 277.88 L1310.73 277.88 L1313.20 277.88 L1315.67 277.87 L1318.13 277.87 L1320.60 277.87 L1323.07 277.86 L1325.54 277.86 L1328.00 277.86 L1330.47 277.85 L1332.94 277.85" fill="none" stroke="#17a7ac" stroke-width="2.1"/></g><rect x="816.0" y="70.8" width="587.20" height="419.50" fill="none" stroke="#333" stroke-width="2.1"/><clipPath id="clipB2"><rect x="816.0" y="529.2" width="587.20" height="419.40"/></clipPath><g clip-path="url(#clipB2)"><rect x="816.0" y="529.2" width="587.20" height="419.40" fill="#fff"/><line x1="816.0" x2="1403.2" y1="888.03" y2="888.03" stroke="#ebebeb" stroke-width="2.1"/><line x1="816.0" x2="1403.2" y1="803.68" y2="803.68" stroke="#ebebeb" stroke-width="2.1"/><line x1="816.0" x2="1403.2" y1="719.33" y2="719.33" stroke="#ebebeb" stroke-width="2.1"/><line x1="816.0" x2="1403.2" y1="634.98" y2="634.98" stroke="#ebebeb" stroke-width="2.1"/><line x1="816.0" x2="1403.2" y1="550.62" y2="550.62" stroke="#ebebeb" stroke-width="2.1"/><line x1="897.70" x2="897.70" y1="529.2" y2="948.6" stroke="#ebebeb" stroke-width="2.1"/><line x1="1009.30" x2="1009.30" y1="529.2" y2="948.6" stroke="#ebebeb" stroke-width="2.1"/><line x1="1120.90" x2="1120.90" y1="529.2" y2="948.6" stroke="#ebebeb" stroke-width="2.1"/><line x1="1232.50" x2="1232.50" y1="529.2" y2="948.6" stroke="#ebebeb" stroke-width="2.1"/><line x1="1344.10" x2="1344.10" y1="529.2" y2="948.6" stroke="#ebebeb" stroke-width="2.1"/><line x1="816.0" x2="1403.2" y1="930.20" y2="930.20" stroke="#ebebeb" stroke-width="3.6"/><line x1="816.0" x2="1403.2" y1="845.85" y2="845.85" stroke="#ebebeb" stroke-width="3.6"/><line x1="816.0" x2="1403.2" y1="761.50" y2="761.50" stroke="#ebebeb" stroke-width="3.6"/><line x1="816.0" x2="1403.2" y1="677.15" y2="677.15" stroke="#ebebeb" stroke-width="3.6"/><line x1="816.0" x2="1403.2" y1="592.80" y2="592.80" stroke="#ebebeb" stroke-width="3.6"/><line x1="841.90" x2="841.90" y1="529.2" y2="948.6" stroke="#ebebeb" stroke-width="3.6"/><line x1="953.50" x2="953.50" y1="529.2" y2="948.6" stroke="#ebebeb" stroke-width="3.6"/><line x1="1065.10" x2="1065.10" y1="529.2" y2="948.6" stroke="#ebebeb" stroke-width="3.6"/><line x1="1176.70" x2="1176.70" y1="529.2" y2="948.6" stroke="#ebebeb" stroke-width="3.6"/><line x1="1288.30" x2="1288.30" y1="529.2" y2="948.6" stroke="#ebebeb" stroke-width="3.6"/><line x1="1399.90" x2="1399.90" y1="529.2" y2="948.6" stroke="#ebebeb" stroke-width="3.6"/><g><circle cx="841.90" cy="926.30" r="4.45" fill="#1eb4b9" fill-opacity="0.45" stroke="#1eb4b9" stroke-opacity="0.36" stroke-width="1.0"/><circle cx="864.22" cy="925.70" r="4.45" fill="#1eb4b9" fill-opacity="0.45" stroke="#1eb4b9" stroke-opacity="0.36" stroke-width="1.0"/><circle cx="886.54" cy="924.30" r="4.45" fill="#1eb4b9" fill-opacity="0.45" stroke="#1eb4b9" stroke-opacity="0.36" stroke-width="1.0"/><circle cx="908.86" cy="919.00" r="4.45" fill="#1eb4b9" fill-opacity="0.45" stroke="#1eb4b9" stroke-opacity="0.36" stroke-width="1.0"/><circle cx="931.18" cy="907.40" r="4.45" fill="#1eb4b9" fill-opacity="0.45" stroke="#1eb4b9" stroke-opacity="0.36" stroke-width="1.0"/><circle cx="953.50" cy="891.20" r="4.45" fill="#1eb4b9" fill-opacity="0.45" stroke="#1eb4b9" stroke-opacity="0.36" stroke-width="1.0"/><circle cx="975.82" cy="874.00" r="4.45" fill="#1eb4b9" fill-opacity="0.45" stroke="#1eb4b9" stroke-opacity="0.36" stroke-width="1.0"/><circle cx="998.14" cy="867.50" r="4.45" fill="#1eb4b9" fill-opacity="0.45" stroke="#1eb4b9" stroke-opacity="0.36" stroke-width="1.0"/><circle cx="1020.46" cy="845.50" r="4.45" fill="#1eb4b9" fill-opacity="0.45" stroke="#1eb4b9" stroke-opacity="0.36" stroke-width="1.0"/><circle cx="1042.78" cy="830.90" r="4.45" fill="#1eb4b9" fill-opacity="0.45" stroke="#1eb4b9" stroke-opacity="0.36" stroke-width="1.0"/><circle cx="1065.10" cy="826.30" r="4.45" fill="#1eb4b9" fill-opacity="0.45" stroke="#1eb4b9" stroke-opacity="0.36" stroke-width="1.0"/><circle cx="1087.42" cy="814.70" r="4.45" fill="#1eb4b9" fill-opacity="0.45" stroke="#1eb4b9" stroke-opacity="0.36" stroke-width="1.0"/><circle cx="1109.74" cy="804.40" r="4.45" fill="#1eb4b9" fill-opacity="0.45" stroke="#1eb4b9" stroke-opacity="0.36" stroke-width="1.0"/><circle cx="1132.06" cy="802.70" r="4.45" fill="#1eb4b9" fill-opacity="0.45" stroke="#1eb4b9" stroke-opacity="0.36" stroke-width="1.0"/><circle cx="1154.38" cy="798.60" r="4.45" fill="#1eb4b9" fill-opacity="0.45" stroke="#1eb4b9" stroke-opacity="0.36" stroke-width="1.0"/><circle cx="1176.70" cy="794.50" r="4.45" fill="#1eb4b9" fill-opacity="0.45" stroke="#1eb4b9" stroke-opacity="0.36" stroke-width="1.0"/><circle cx="1199.02" cy="794.50" r="4.45" fill="#1eb4b9" fill-opacity="0.45" stroke="#1eb4b9" stroke-opacity="0.36" stroke-width="1.0"/><circle cx="1243.66" cy="794.50" r="4.45" fill="#1eb4b9" fill-opacity="0.45" stroke="#1eb4b9" stroke-opacity="0.36" stroke-width="1.0"/><circle cx="1288.30" cy="797.60" r="4.45" fill="#1eb4b9" fill-opacity="0.45" stroke="#1eb4b9" stroke-opacity="0.36" stroke-width="1.0"/><circle cx="1332.94" cy="802.70" r="4.45" fill="#1eb4b9" fill-opacity="0.45" stroke="#1eb4b9" stroke-opacity="0.36" stroke-width="1.0"/><circle cx="1377.58" cy="814.50" r="4.45" fill="#1eb4b9" fill-opacity="0.45" stroke="#1eb4b9" stroke-opacity="0.36" stroke-width="1.0"/><circle cx="841.90" cy="926.70" r="4.45" fill="#eb615d" fill-opacity="0.5" stroke="#eb615d" stroke-opacity="0.40" stroke-width="1.0"/><circle cx="864.22" cy="925.70" r="4.45" fill="#eb615d" fill-opacity="0.5" stroke="#eb615d" stroke-opacity="0.40" stroke-width="1.0"/><circle cx="886.54" cy="921.70" r="4.45" fill="#eb615d" fill-opacity="0.5" stroke="#eb615d" stroke-opacity="0.40" stroke-width="1.0"/><circle cx="908.86" cy="914.50" r="4.45" fill="#eb615d" fill-opacity="0.5" stroke="#eb615d" stroke-opacity="0.40" stroke-width="1.0"/><circle cx="931.18" cy="906.40" r="4.45" fill="#eb615d" fill-opacity="0.5" stroke="#eb615d" stroke-opacity="0.40" stroke-width="1.0"/><circle cx="953.50" cy="891.20" r="4.45" fill="#eb615d" fill-opacity="0.5" stroke="#eb615d" stroke-opacity="0.40" stroke-width="1.0"/><circle cx="975.82" cy="879.00" r="4.45" fill="#eb615d" fill-opacity="0.5" stroke="#eb615d" stroke-opacity="0.40" stroke-width="1.0"/><circle cx="998.14" cy="868.90" r="4.45" fill="#eb615d" fill-opacity="0.5" stroke="#eb615d" stroke-opacity="0.40" stroke-width="1.0"/><circle cx="1020.46" cy="857.70" r="4.45" fill="#eb615d" fill-opacity="0.5" stroke="#eb615d" stroke-opacity="0.40" stroke-width="1.0"/><circle cx="1042.78" cy="852.60" r="4.45" fill="#eb615d" fill-opacity="0.5" stroke="#eb615d" stroke-opacity="0.40" stroke-width="1.0"/><circle cx="1065.10" cy="833.40" r="4.45" fill="#eb615d" fill-opacity="0.5" stroke="#eb615d" stroke-opacity="0.40" stroke-width="1.0"/><circle cx="1087.42" cy="822.20" r="4.45" fill="#eb615d" fill-opacity="0.5" stroke="#eb615d" stroke-opacity="0.40" stroke-width="1.0"/><circle cx="1109.74" cy="815.60" r="4.45" fill="#eb615d" fill-opacity="0.5" stroke="#eb615d" stroke-opacity="0.40" stroke-width="1.0"/><circle cx="1132.06" cy="810.30" r="4.45" fill="#eb615d" fill-opacity="0.5" stroke="#eb615d" stroke-opacity="0.40" stroke-width="1.0"/><circle cx="1154.38" cy="807.50" r="4.45" fill="#eb615d" fill-opacity="0.5" stroke="#eb615d" stroke-opacity="0.40" stroke-width="1.0"/><circle cx="1176.70" cy="806.80" r="4.45" fill="#eb615d" fill-opacity="0.5" stroke="#eb615d" stroke-opacity="0.40" stroke-width="1.0"/><circle cx="1199.02" cy="810.30" r="4.45" fill="#eb615d" fill-opacity="0.5" stroke="#eb615d" stroke-opacity="0.40" stroke-width="1.0"/><circle cx="1243.66" cy="818.60" r="4.45" fill="#eb615d" fill-opacity="0.5" stroke="#eb615d" stroke-opacity="0.40" stroke-width="1.0"/><circle cx="1288.30" cy="829.90" r="4.45" fill="#eb615d" fill-opacity="0.5" stroke="#eb615d" stroke-opacity="0.40" stroke-width="1.0"/><circle cx="1332.94" cy="841.40" r="4.45" fill="#eb615d" fill-opacity="0.5" stroke="#eb615d" stroke-opacity="0.40" stroke-width="1.0"/><circle cx="1377.58" cy="847.00" r="4.45" fill="#eb615d" fill-opacity="0.5" stroke="#eb615d" stroke-opacity="0.40" stroke-width="1.0"/></g><path d="M1189.42 811.86 L1190.37 811.80 L1191.31 811.74 L1192.26 811.68 L1193.20 811.62 L1194.15 811.57 L1195.10 811.51 L1196.04 811.45 L1196.99 811.40 L1197.93 811.34 L1198.88 811.29 L1199.82 811.24 L1200.77 811.18 L1201.71 811.13 L1202.66 811.08 L1203.61 811.03 L1204.55 810.98 L1205.50 810.93 L1206.44 810.89 L1207.39 810.84 L1208.33 810.79 L1209.28 810.75 L1210.22 810.70 L1211.17 810.66 L1212.11 810.61 L1213.06 810.57 L1214.01 810.52 L1214.95 810.48 L1215.90 810.44 L1216.84 810.40 L1217.79 810.36 L1218.73 810.32 L1219.68 810.28 L1220.62 810.24 L1221.57 810.20 L1222.52 810.16 L1223.46 810.12 L1224.41 810.09 L1225.35 810.05 L1226.30 810.01 L1227.24 809.98 L1228.19 809.94 L1229.13 809.91 L1230.08 809.87 L1231.03 809.84 L1231.97 809.81 L1232.92 809.78 L1233.86 809.74 L1234.81 809.71 L1235.75 809.68 L1236.70 809.65 L1237.64 809.62 L1238.59 809.59 L1239.53 809.56 L1240.48 809.53 L1241.43 809.50 L1242.37 809.47 L1243.32 809.44 L1244.26 809.42 L1245.21 809.39 L1246.15 809.36 L1247.10 809.33 L1248.04 809.31 L1248.99 809.28 L1249.94 809.26 L1250.88 809.23 L1251.83 809.21 L1252.77 809.18 L1253.72 809.16 L1254.66 809.13 L1255.61 809.11 L1256.55 809.09 L1257.50 809.07 L1258.45 809.04 L1259.39 809.02 L1260.34 809.00 L1261.28 808.98 L1262.23 808.96 L1263.17 808.93 L1264.12 808.91 L1265.06 808.89 L1266.01 808.87 L1266.95 808.85 L1267.90 808.83 L1268.85 808.81 L1269.79 808.80 L1270.74 808.78 L1271.68 808.76 L1272.63 808.74 L1273.57 808.72 L1274.52 808.70 L1275.46 808.69 L1276.41 808.67 L1277.36 808.65 L1278.30 808.64 L1279.25 808.62 L1280.19 808.60 L1281.14 808.59 L1282.08 808.57 L1283.03 808.56 L1283.97 808.54 L1284.92 808.52 L1285.86 808.51 L1286.81 808.49 L1287.76 808.48 L1288.70 808.47 L1289.65 808.45 L1290.59 808.44 L1291.54 808.42 L1292.48 808.41 L1293.43 808.40 L1294.37 808.38 L1295.32 808.37 L1296.27 808.36 L1297.21 808.34 L1298.16 808.33 L1299.10 808.32 L1300.05 808.31 L1300.99 808.30 L1301.94 808.28 L1302.88 808.27 L1303.83 808.26 L1304.78 808.25 L1305.72 808.24 L1306.67 808.23 L1307.61 808.22 L1308.56 808.20 L1309.50 808.19 L1310.45 808.18 L1311.39 808.17 L1312.34 808.16 L1313.28 808.15 L1314.23 808.14 L1315.18 808.13 L1316.12 808.12 L1317.07 808.11 L1318.01 808.11 L1318.96 808.10 L1319.90 808.09 L1320.85 808.08 L1321.79 808.07 L1322.74 808.06 L1323.69 808.05 L1324.63 808.04 L1325.58 808.03 L1326.52 808.03 L1327.47 808.02 L1328.41 808.01 L1329.36 808.00 L1330.30 807.99 L1331.25 807.99 L1332.20 807.98 L1333.14 807.97 L1334.09 807.96 L1335.03 807.96 L1335.98 807.95 L1336.92 807.94 L1337.87 807.94 L1338.81 807.93 L1339.76 807.92 L1340.70 807.92 L1341.65 807.91 L1342.60 807.90 L1343.54 807.90 L1344.49 807.89 L1345.43 807.88 L1346.38 807.88 L1347.32 807.87 L1348.27 807.87 L1349.21 807.86 L1350.16 807.85 L1351.11 807.85 L1352.05 807.84 L1353.00 807.84 L1353.94 807.83 L1354.89 807.83 L1355.83 807.82 L1356.78 807.82 L1357.72 807.81 L1358.67 807.81 L1359.62 807.80 L1360.56 807.80 L1361.51 807.79 L1362.45 807.79 L1363.40 807.78 L1364.34 807.78 L1365.29 807.77 L1366.23 807.77 L1367.18 807.76 L1368.12 807.76 L1369.07 807.75 L1370.02 807.75 L1370.96 807.75 L1371.91 807.74 L1372.85 807.74 L1373.80 807.73 L1374.74 807.73 L1375.69 807.72 L1376.63 807.72 L1377.58 807.72" fill="none" stroke="#e76a61" stroke-width="2.1" stroke-dasharray="9.6 9.6" stroke-dashoffset="9.3"/><path d="M841.90 927.28 L843.65 927.25 L845.39 927.22 L847.14 927.18 L848.89 927.13 L850.63 927.08 L852.38 927.02 L854.12 926.96 L855.87 926.89 L857.62 926.81 L859.36 926.72 L861.11 926.61 L862.86 926.50 L864.60 926.38 L866.35 926.24 L868.10 926.09 L869.84 925.93 L871.59 925.75 L873.33 925.55 L875.08 925.34 L876.83 925.11 L878.57 924.86 L880.32 924.60 L882.07 924.31 L883.81 924.00 L885.56 923.68 L887.30 923.33 L889.05 922.95 L890.80 922.56 L892.54 922.14 L894.29 921.70 L896.04 921.23 L897.78 920.74 L899.53 920.23 L901.28 919.69 L903.02 919.13 L904.77 918.54 L906.51 917.92 L908.26 917.28 L910.01 916.62 L911.75 915.93 L913.50 915.21 L915.25 914.48 L916.99 913.71 L918.74 912.93 L920.49 912.12 L922.23 911.29 L923.98 910.44 L925.72 909.56 L927.47 908.66 L929.22 907.75 L930.96 906.81 L932.71 905.86 L934.46 904.89 L936.20 903.90 L937.95 902.89 L939.70 901.87 L941.44 900.84 L943.19 899.79 L944.93 898.73 L946.68 897.65 L948.43 896.57 L950.17 895.47 L951.92 894.37 L953.67 893.26 L955.41 892.14 L957.16 891.01 L958.91 889.88 L960.65 888.74 L962.40 887.60 L964.14 886.46 L965.89 885.31 L967.64 884.16 L969.38 883.02 L971.13 881.87 L972.88 880.72 L974.62 879.58 L976.37 878.43 L978.11 877.29 L979.86 876.16 L981.61 875.03 L983.35 873.90 L985.10 872.78 L986.85 871.66 L988.59 870.56 L990.34 869.46 L992.09 868.36 L993.83 867.28 L995.58 866.20 L997.32 865.14 L999.07 864.08 L1000.82 863.03 L1002.56 861.99 L1004.31 860.97 L1006.06 859.95 L1007.80 858.95 L1009.55 857.95 L1011.30 856.97 L1013.04 856.00 L1014.79 855.04 L1016.53 854.10 L1018.28 853.17 L1020.03 852.25 L1021.77 851.34 L1023.52 850.44 L1025.27 849.56 L1027.01 848.69 L1028.76 847.84 L1030.51 846.99 L1032.25 846.16 L1034.00 845.35 L1035.74 844.54 L1037.49 843.75 L1039.24 842.97 L1040.98 842.21 L1042.73 841.46 L1044.48 840.72 L1046.22 839.99 L1047.97 839.28 L1049.71 838.58 L1051.46 837.89 L1053.21 837.21 L1054.95 836.55 L1056.70 835.90 L1058.45 835.26 L1060.19 834.64 L1061.94 834.02 L1063.69 833.42 L1065.43 832.83 L1067.18 832.25 L1068.92 831.68 L1070.67 831.13 L1072.42 830.58 L1074.16 830.05 L1075.91 829.52 L1077.66 829.01 L1079.40 828.51 L1081.15 828.02 L1082.90 827.54 L1084.64 827.06 L1086.39 826.60 L1088.13 826.15 L1089.88 825.71 L1091.63 825.28 L1093.37 824.86 L1095.12 824.44 L1096.87 824.04 L1098.61 823.64 L1100.36 823.25 L1102.11 822.88 L1103.85 822.51 L1105.60 822.14 L1107.34 821.79 L1109.09 821.44 L1110.84 821.11 L1112.58 820.77 L1114.33 820.45 L1116.08 820.14 L1117.82 819.83 L1119.57 819.53 L1121.31 819.23 L1123.06 818.94 L1124.81 818.66 L1126.55 818.39 L1128.30 818.12 L1130.05 817.86 L1131.79 817.60 L1133.54 817.35 L1135.29 817.11 L1137.03 816.87 L1138.78 816.64 L1140.52 816.41 L1142.27 816.19 L1144.02 815.97 L1145.76 815.76 L1147.51 815.56 L1149.26 815.36 L1151.00 815.16 L1152.75 814.97 L1154.50 814.78 L1156.24 814.60 L1157.99 814.42 L1159.73 814.25 L1161.48 814.08 L1163.23 813.91 L1164.97 813.75 L1166.72 813.59 L1168.47 813.44 L1170.21 813.29 L1171.96 813.14 L1173.71 813.00 L1175.45 812.86 L1177.20 812.72 L1178.94 812.59 L1180.69 812.46 L1182.44 812.33 L1184.18 812.21 L1185.93 812.09 L1187.68 811.97 L1189.42 811.86" fill="none" stroke="#e76a61" stroke-width="2.1"/><path d="M1247.01 795.83 L1247.66 795.81 L1248.32 795.80 L1248.98 795.78 L1249.63 795.76 L1250.29 795.74 L1250.94 795.72 L1251.60 795.71 L1252.26 795.69 L1252.91 795.67 L1253.57 795.66 L1254.23 795.64 L1254.88 795.62 L1255.54 795.61 L1256.19 795.59 L1256.85 795.57 L1257.51 795.56 L1258.16 795.54 L1258.82 795.53 L1259.47 795.51 L1260.13 795.50 L1260.79 795.48 L1261.44 795.47 L1262.10 795.45 L1262.76 795.44 L1263.41 795.42 L1264.07 795.41 L1264.72 795.39 L1265.38 795.38 L1266.04 795.37 L1266.69 795.35 L1267.35 795.34 L1268.00 795.32 L1268.66 795.31 L1269.32 795.30 L1269.97 795.28 L1270.63 795.27 L1271.29 795.26 L1271.94 795.25 L1272.60 795.23 L1273.25 795.22 L1273.91 795.21 L1274.57 795.20 L1275.22 795.18 L1275.88 795.17 L1276.53 795.16 L1277.19 795.15 L1277.85 795.14 L1278.50 795.13 L1279.16 795.11 L1279.82 795.10 L1280.47 795.09 L1281.13 795.08 L1281.78 795.07 L1282.44 795.06 L1283.10 795.05 L1283.75 795.04 L1284.41 795.03 L1285.06 795.02 L1285.72 795.01 L1286.38 795.00 L1287.03 794.99 L1287.69 794.98 L1288.34 794.97 L1289.00 794.96 L1289.66 794.95 L1290.31 794.94 L1290.97 794.93 L1291.63 794.92 L1292.28 794.91 L1292.94 794.90 L1293.59 794.89 L1294.25 794.88 L1294.91 794.87 L1295.56 794.86 L1296.22 794.86 L1296.87 794.85 L1297.53 794.84 L1298.19 794.83 L1298.84 794.82 L1299.50 794.81 L1300.16 794.80 L1300.81 794.80 L1301.47 794.79 L1302.12 794.78 L1302.78 794.77 L1303.44 794.77 L1304.09 794.76 L1304.75 794.75 L1305.40 794.74 L1306.06 794.73 L1306.72 794.73 L1307.37 794.72 L1308.03 794.71 L1308.69 794.71 L1309.34 794.70 L1310.00 794.69 L1310.65 794.68 L1311.31 794.68 L1311.97 794.67 L1312.62 794.66 L1313.28 794.66 L1313.93 794.65 L1314.59 794.64 L1315.25 794.64 L1315.90 794.63 L1316.56 794.62 L1317.22 794.62 L1317.87 794.61 L1318.53 794.61 L1319.18 794.60 L1319.84 794.59 L1320.50 794.59 L1321.15 794.58 L1321.81 794.58 L1322.46 794.57 L1323.12 794.56 L1323.78 794.56 L1324.43 794.55 L1325.09 794.55 L1325.74 794.54 L1326.40 794.54 L1327.06 794.53 L1327.71 794.53 L1328.37 794.52 L1329.03 794.52 L1329.68 794.51 L1330.34 794.50 L1330.99 794.50 L1331.65 794.49 L1332.31 794.49 L1332.96 794.48 L1333.62 794.48 L1334.27 794.47 L1334.93 794.47 L1335.59 794.47 L1336.24 794.46 L1336.90 794.46 L1337.56 794.45 L1338.21 794.45 L1338.87 794.44 L1339.52 794.44 L1340.18 794.43 L1340.84 794.43 L1341.49 794.42 L1342.15 794.42 L1342.80 794.42 L1343.46 794.41 L1344.12 794.41 L1344.77 794.40 L1345.43 794.40 L1346.09 794.40 L1346.74 794.39 L1347.40 794.39 L1348.05 794.38 L1348.71 794.38 L1349.37 794.38 L1350.02 794.37 L1350.68 794.37 L1351.33 794.37 L1351.99 794.36 L1352.65 794.36 L1353.30 794.35 L1353.96 794.35 L1354.62 794.35 L1355.27 794.34 L1355.93 794.34 L1356.58 794.34 L1357.24 794.33 L1357.90 794.33 L1358.55 794.33 L1359.21 794.32 L1359.86 794.32 L1360.52 794.32 L1361.18 794.31 L1361.83 794.31 L1362.49 794.31 L1363.14 794.30 L1363.80 794.30 L1364.46 794.30 L1365.11 794.30 L1365.77 794.29 L1366.43 794.29 L1367.08 794.29 L1367.74 794.28 L1368.39 794.28 L1369.05 794.28 L1369.71 794.28 L1370.36 794.27 L1371.02 794.27 L1371.67 794.27 L1372.33 794.26 L1372.99 794.26 L1373.64 794.26 L1374.30 794.26 L1374.96 794.25 L1375.61 794.25 L1376.27 794.25 L1376.92 794.25 L1377.58 794.24" fill="none" stroke="#17a7ac" stroke-width="2.1" stroke-dasharray="9.6 9.6" stroke-dashoffset="9.3"/><path d="M841.90 926.90 L843.94 926.89 L845.97 926.87 L848.01 926.85 L850.04 926.82 L852.08 926.78 L854.11 926.74 L856.15 926.70 L858.19 926.64 L860.22 926.57 L862.26 926.50 L864.29 926.41 L866.33 926.30 L868.36 926.18 L870.40 926.05 L872.44 925.89 L874.47 925.72 L876.51 925.52 L878.54 925.30 L880.58 925.06 L882.61 924.79 L884.65 924.49 L886.69 924.16 L888.72 923.80 L890.76 923.41 L892.79 922.99 L894.83 922.52 L896.86 922.03 L898.90 921.49 L900.94 920.91 L902.97 920.30 L905.01 919.65 L907.04 918.95 L909.08 918.21 L911.11 917.44 L913.15 916.62 L915.19 915.75 L917.22 914.85 L919.26 913.91 L921.29 912.93 L923.33 911.90 L925.36 910.84 L927.40 909.74 L929.44 908.60 L931.47 907.43 L933.51 906.22 L935.54 904.97 L937.58 903.70 L939.61 902.39 L941.65 901.06 L943.69 899.70 L945.72 898.31 L947.76 896.90 L949.79 895.47 L951.83 894.02 L953.86 892.55 L955.90 891.06 L957.94 889.56 L959.97 888.04 L962.01 886.51 L964.04 884.98 L966.08 883.43 L968.11 881.89 L970.15 880.33 L972.19 878.78 L974.22 877.22 L976.26 875.67 L978.29 874.11 L980.33 872.56 L982.36 871.02 L984.40 869.48 L986.44 867.95 L988.47 866.43 L990.51 864.92 L992.54 863.43 L994.58 861.94 L996.61 860.47 L998.65 859.01 L1000.69 857.56 L1002.72 856.14 L1004.76 854.73 L1006.79 853.33 L1008.83 851.96 L1010.86 850.60 L1012.90 849.26 L1014.94 847.95 L1016.97 846.65 L1019.01 845.37 L1021.04 844.11 L1023.08 842.88 L1025.11 841.66 L1027.15 840.47 L1029.19 839.30 L1031.22 838.15 L1033.26 837.02 L1035.29 835.91 L1037.33 834.82 L1039.36 833.76 L1041.40 832.72 L1043.44 831.69 L1045.47 830.70 L1047.51 829.72 L1049.54 828.76 L1051.58 827.82 L1053.61 826.91 L1055.65 826.01 L1057.69 825.14 L1059.72 824.29 L1061.76 823.45 L1063.79 822.64 L1065.83 821.84 L1067.86 821.06 L1069.90 820.31 L1071.94 819.57 L1073.97 818.85 L1076.01 818.15 L1078.04 817.46 L1080.08 816.79 L1082.11 816.14 L1084.15 815.51 L1086.19 814.89 L1088.22 814.29 L1090.26 813.70 L1092.29 813.13 L1094.33 812.58 L1096.36 812.04 L1098.40 811.51 L1100.44 811.00 L1102.47 810.50 L1104.51 810.02 L1106.54 809.55 L1108.58 809.09 L1110.61 808.65 L1112.65 808.21 L1114.69 807.79 L1116.72 807.38 L1118.76 806.99 L1120.79 806.60 L1122.83 806.22 L1124.86 805.86 L1126.90 805.50 L1128.94 805.16 L1130.97 804.82 L1133.01 804.50 L1135.04 804.18 L1137.08 803.88 L1139.11 803.58 L1141.15 803.29 L1143.19 803.01 L1145.22 802.74 L1147.26 802.47 L1149.29 802.22 L1151.33 801.97 L1153.36 801.72 L1155.40 801.49 L1157.44 801.26 L1159.47 801.04 L1161.51 800.83 L1163.54 800.62 L1165.58 800.42 L1167.61 800.22 L1169.65 800.03 L1171.69 799.85 L1173.72 799.67 L1175.76 799.49 L1177.79 799.32 L1179.83 799.16 L1181.87 799.00 L1183.90 798.85 L1185.94 798.70 L1187.97 798.56 L1190.01 798.42 L1192.04 798.28 L1194.08 798.15 L1196.12 798.02 L1198.15 797.90 L1200.19 797.78 L1202.22 797.66 L1204.26 797.55 L1206.29 797.44 L1208.33 797.33 L1210.37 797.23 L1212.40 797.13 L1214.44 797.03 L1216.47 796.94 L1218.51 796.85 L1220.54 796.76 L1222.58 796.67 L1224.62 796.59 L1226.65 796.51 L1228.69 796.43 L1230.72 796.36 L1232.76 796.29 L1234.79 796.21 L1236.83 796.15 L1238.87 796.08 L1240.90 796.01 L1242.94 795.95 L1244.97 795.89 L1247.01 795.83" fill="none" stroke="#17a7ac" stroke-width="2.1"/></g><rect x="816.0" y="529.2" width="587.20" height="419.40" fill="none" stroke="#333" stroke-width="2.1"/><rect x="190.0" y="6" width="588.40" height="64.80" fill="#d9d9d9" stroke="#333" stroke-width="2.1"/><rect x="816.0" y="6" width="587.20" height="64.80" fill="#d9d9d9" stroke="#333" stroke-width="2.1"/><text x="484.2" y="45.4" text-anchor="middle" style="font-family:'Liberation Serif',serif;font-size:35.2px" fill="#1a1a1a">a) Monoculture</text><text x="1109.6" y="45.4" text-anchor="middle" style="font-family:'Liberation Serif',serif;font-size:35.2px" fill="#1a1a1a">b) Mixed culture</text><rect x="1404.3" y="71.7" width="64.70000000000005" height="418.60" fill="#d9d9d9" stroke="#333" stroke-width="2.1"/><rect x="1404.3" y="529.2" width="64.70000000000005" height="419.40" fill="#d9d9d9" stroke="#333" stroke-width="2.1"/><text transform="translate(1428.9,281.9) rotate(90)" text-anchor="middle" style="font-family:'Liberation Serif',serif;font-style:italic;font-size:35.3px" fill="#1a1a1a">C. albicans</text><text transform="translate(1428.9,739.7) rotate(90)" text-anchor="middle" style="font-family:'Liberation Serif',serif;font-style:italic;font-size:35.3px;letter-spacing:0.8px" fill="#1a1a1a">C. kefir</text><line x1="179" x2="190.0" y1="471.90" y2="471.90" stroke="#333" stroke-width="3.3"/><text x="169.4" y="480.30" text-anchor="end" style="font-family:'Liberation Serif',serif;font-size:35.3px" fill="#333">0.0e+00</text><line x1="179" x2="190.0" y1="363.97" y2="363.97" stroke="#333" stroke-width="3.3"/><text x="169.4" y="372.37" text-anchor="end" style="font-family:'Liberation Serif',serif;font-size:35.3px" fill="#333">2.5e+06</text><line x1="179" x2="190.0" y1="256.05" y2="256.05" stroke="#333" stroke-width="3.3"/><text x="169.4" y="264.45" text-anchor="end" style="font-family:'Liberation Serif',serif;font-size:35.3px" fill="#333">5.0e+06</text><line x1="179" x2="190.0" y1="148.12" y2="148.12" stroke="#333" stroke-width="3.3"/><text x="169.4" y="156.52" text-anchor="end" style="font-family:'Liberation Serif',serif;font-size:35.3px" fill="#333">7.5e+06</text><line x1="179" x2="190.0" y1="930.20" y2="930.20" stroke="#333" stroke-width="3.3"/><text x="169.4" y="938.60" text-anchor="end" style="font-family:'Liberation Serif',serif;font-size:35.3px" fill="#333">0e+00</text><line x1="179" x2="190.0" y1="845.85" y2="845.85" stroke="#333" stroke-width="3.3"/><text x="169.4" y="854.25" text-anchor="end" style="font-family:'Liberation Serif',serif;font-size:35.3px" fill="#333">1e+07</text><line x1="179" x2="190.0" y1="761.50" y2="761.50" stroke="#333" stroke-width="3.3"/><text x="169.4" y="769.90" text-anchor="end" style="font-family:'Liberation Serif',serif;font-size:35.3px" fill="#333">2e+07</text><line x1="179" x2="190.0" y1="677.15" y2="677.15" stroke="#333" stroke-width="3.3"/><text x="169.4" y="685.55" text-anchor="end" style="font-family:'Liberation Serif',serif;font-size:35.3px" fill="#333">3e+07</text><line x1="179" x2="190.0" y1="592.80" y2="592.80" stroke="#333" stroke-width="3.3"/><text x="169.4" y="601.20" text-anchor="end" style="font-family:'Liberation Serif',serif;font-size:35.3px" fill="#333">4e+07</text><line x1="216.20" x2="216.20" y1="948.6" y2="960" stroke="#333" stroke-width="3.3"/><text x="216.20" y="992" text-anchor="middle" style="font-family:'Liberation Serif',serif;font-size:35.3px" fill="#333">0</text><line x1="327.80" x2="327.80" y1="948.6" y2="960" stroke="#333" stroke-width="3.3"/><text x="327.80" y="992" text-anchor="middle" style="font-family:'Liberation Serif',serif;font-size:35.3px" fill="#333">5</text><line x1="439.40" x2="439.40" y1="948.6" y2="960" stroke="#333" stroke-width="3.3"/><text x="439.40" y="992" text-anchor="middle" style="font-family:'Liberation Serif',serif;font-size:35.3px" fill="#333">10</text><line x1="551.00" x2="551.00" y1="948.6" y2="960" stroke="#333" stroke-width="3.3"/><text x="551.00" y="992" text-anchor="middle" style="font-family:'Liberation Serif',serif;font-size:35.3px" fill="#333">15</text><line x1="662.60" x2="662.60" y1="948.6" y2="960" stroke="#333" stroke-width="3.3"/><text x="662.60" y="992" text-anchor="middle" style="font-family:'Liberation Serif',serif;font-size:35.3px" fill="#333">20</text><line x1="774.20" x2="774.20" y1="948.6" y2="960" stroke="#333" stroke-width="3.3"/><text x="774.20" y="992" text-anchor="middle" style="font-family:'Liberation Serif',serif;font-size:35.3px" fill="#333">25</text><line x1="841.90" x2="841.90" y1="948.6" y2="960" stroke="#333" stroke-width="3.3"/><text x="841.90" y="992" text-anchor="middle" style="font-family:'Liberation Serif',serif;font-size:35.3px" fill="#333">0</text><line x1="953.50" x2="953.50" y1="948.6" y2="960" stroke="#333" stroke-width="3.3"/><text x="953.50" y="992" text-anchor="middle" style="font-family:'Liberation Serif',serif;font-size:35.3px" fill="#333">5</text><line x1="1065.10" x2="1065.10" y1="948.6" y2="960" stroke="#333" stroke-width="3.3"/><text x="1065.10" y="992" text-anchor="middle" style="font-family:'Liberation Serif',serif;font-size:35.3px" fill="#333">10</text><line x1="1176.70" x2="1176.70" y1="948.6" y2="960" stroke="#333" stroke-width="3.3"/><text x="1176.70" y="992" text-anchor="middle" style="font-family:'Liberation Serif',serif;font-size:35.3px" fill="#333">15</text><line x1="1288.30" x2="1288.30" y1="948.6" y2="960" stroke="#333" stroke-width="3.3"/><text x="1288.30" y="992" text-anchor="middle" style="font-family:'Liberation Serif',serif;font-size:35.3px" fill="#333">20</text><line x1="1399.90" x2="1399.90" y1="948.6" y2="960" stroke="#333" stroke-width="3.3"/><text x="1399.90" y="992" text-anchor="middle" style="font-family:'Liberation Serif',serif;font-size:35.3px" fill="#333">25</text><text x="796.5" y="1040" text-anchor="middle" style="font-family:'Liberation Serif',serif;font-size:44.5px" fill="#000">Time (h)</text><text transform="translate(34.5,510) rotate(-90)" text-anchor="middle" style="font-family:'Liberation Serif',serif;font-size:44.5px" fill="#000">CFU/mL</text><circle cx="507.29999999999995" cy="1130.5" r="3.9" fill="#eb615d" fill-opacity="0.5" stroke="#eb615d" stroke-opacity="0.40" stroke-width="0.9"/><line x1="498.4" x2="516.4" y1="1130.5" y2="1130.5" stroke="#e76a61" stroke-width="2.4"/><text x="541.7" y="1138.3" style="font-family:'Liberation Serif',serif;font-size:35px" fill="#000">with postbiotics</text><circle cx="796.3" cy="1130.5" r="3.9" fill="#1eb4b9" fill-opacity="0.45" stroke="#1eb4b9" stroke-opacity="0.36" stroke-width="0.9"/><line x1="787.4" x2="805.4" y1="1130.5" y2="1130.5" stroke="#17a7ac" stroke-width="2.4"/><text x="831.0" y="1138.3" style="font-family:'Liberation Serif',serif;font-size:35px" fill="#000">without postbiotics</text></svg>
</body></html>
